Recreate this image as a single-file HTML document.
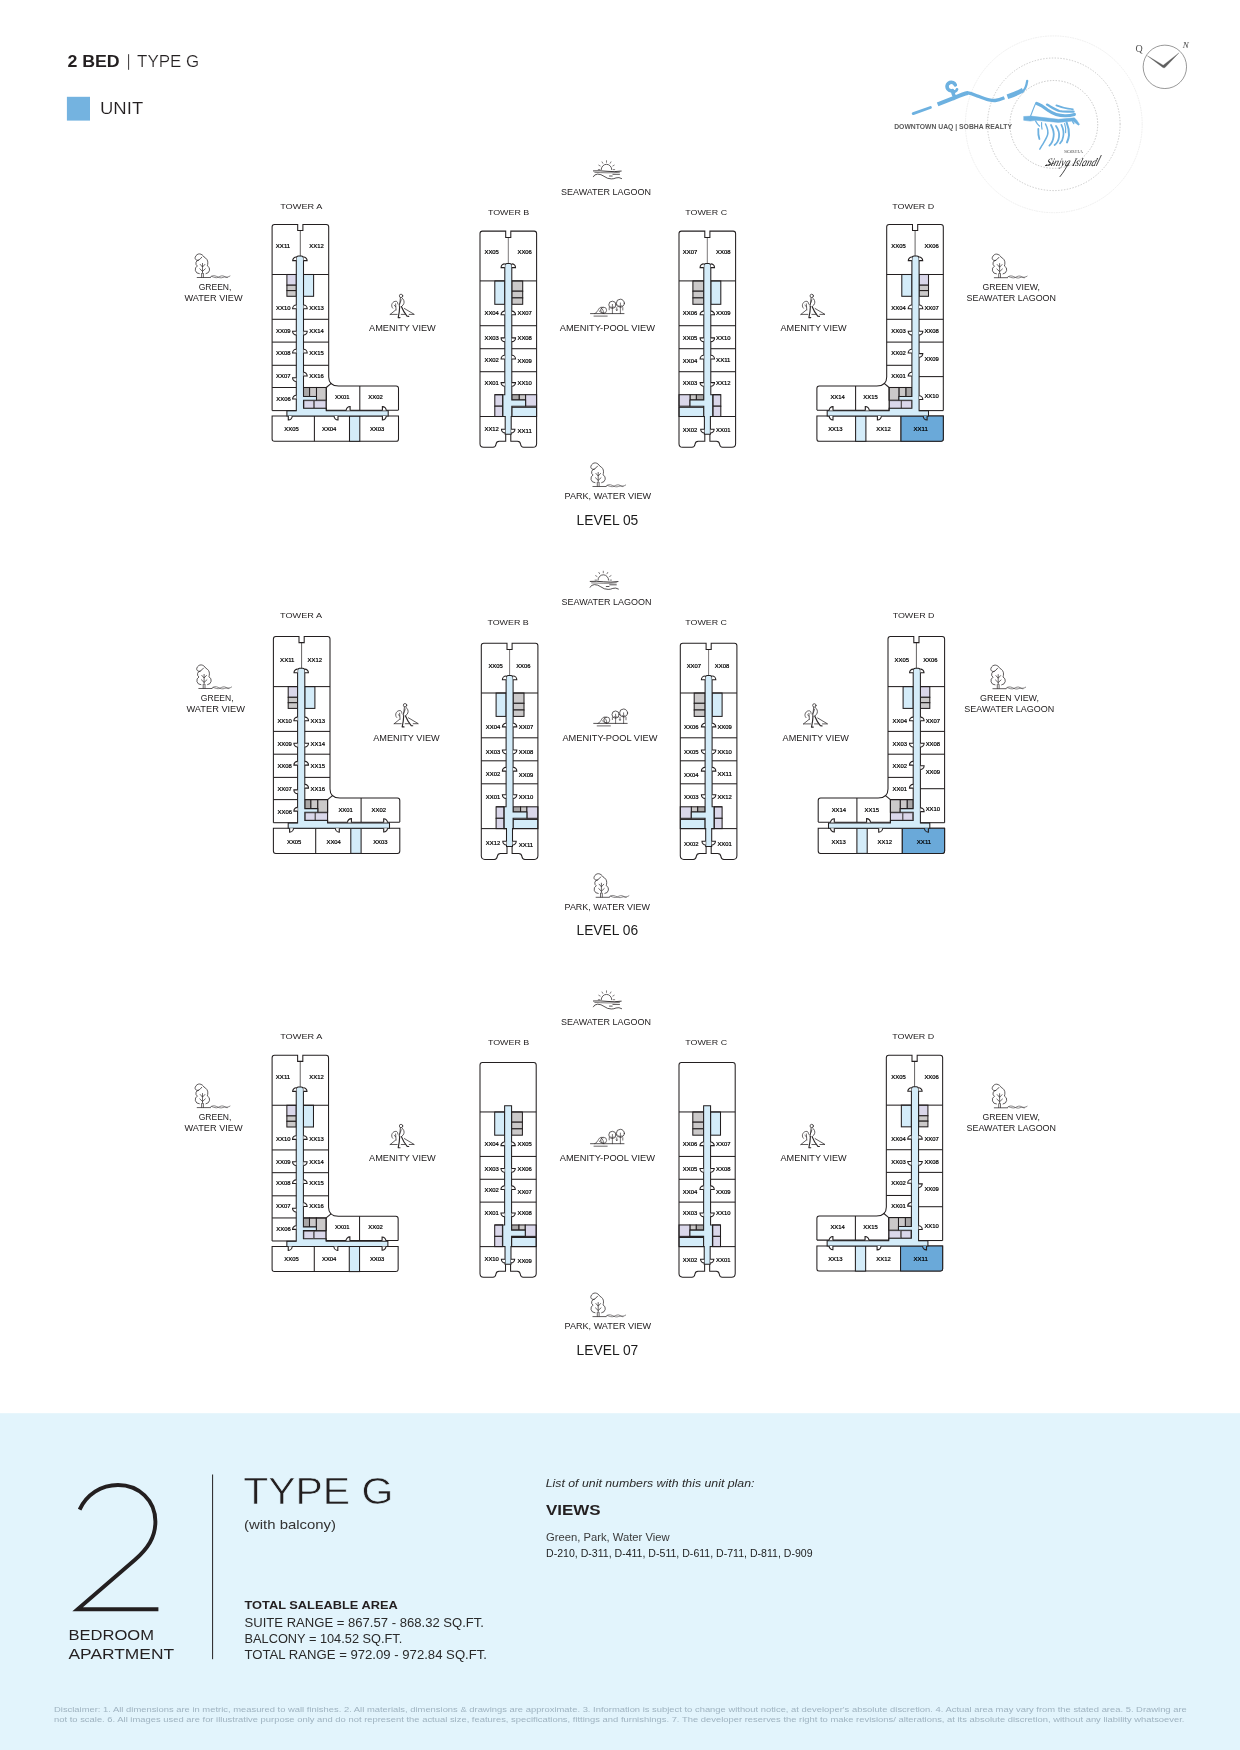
<!DOCTYPE html>
<html><head><meta charset="utf-8"><title>2 BED | TYPE G</title>
<style>
html,body{margin:0;padding:0;background:#fff;}
body{width:1240px;height:1750px;overflow:hidden;font-family:"Liberation Sans",sans-serif;}
svg{display:block;font-family:"Liberation Sans",sans-serif;will-change:transform;}
</style></head><body>
<svg width="1240" height="1750" viewBox="0 0 1240 1750">
<text x="67.40" y="66.60" font-size="16" textLength="52.30" lengthAdjust="spacingAndGlyphs" font-weight="bold" fill="#231f20">2 BED</text>
<path d="M128.6 54.2V69.8" stroke="#231f20" stroke-width="0.9"/>
<text x="137.10" y="66.60" font-size="16" textLength="62.10" lengthAdjust="spacingAndGlyphs" fill="#231f20" stroke="#fff" stroke-width="0.2">TYPE G</text>
<rect x="66.9" y="96.8" width="23.1" height="23.8" fill="#74b3e0"/>
<text x="100.00" y="113.90" font-size="16.4" textLength="43.20" lengthAdjust="spacingAndGlyphs" fill="#231f20" stroke="#fff" stroke-width="0.15">UNIT</text>
<g fill="none" stroke-linecap="round"><circle cx="1053.8" cy="124.3" r="88.4" stroke="#ececec" stroke-width="0.9" stroke-dasharray="0.9 1.6"/><circle cx="1053.8" cy="124.3" r="66.3" stroke="#c4c4c4" stroke-width="0.9" stroke-dasharray="0.6 2.3"/><circle cx="1053.8" cy="124.4" r="43.9" stroke="#bdbdbd" stroke-width="0.9" stroke-dasharray="0.6 2.3"/></g>
<g fill="none" stroke="#6db1e0" stroke-linecap="round" stroke-linejoin="round"><path d="M913.2 113.6L930.4 107.5" stroke-width="2.9"/><path d="M937.6 104.4L952.2 98.6C957 96.6 963 93.8 967.8 92.9" stroke-width="4.1" stroke-linecap="butt"/><path d="M966.8 92.7C971.5 93.4 975 95 978.4 96.3C982 97.8 985.6 99.2 989 99.9C991.5 100.4 993.5 100.6 995.2 100.5C998 100.2 1001 99.2 1004.4 97.8" stroke-width="3.3" stroke-linecap="butt"/><path d="M1007.4 96.8C1012.4 95 1018.4 92.6 1023 90.2" stroke-width="4.7" stroke-linecap="butt"/><path d="M1023 91C1025.4 88.8 1026.6 85 1027.2 80.8" stroke-width="2.3"/><path d="M955.3 84.9A4.3 4.3 0 1 0 952.4 90.7C953 93 953.6 95 954.6 96.8" stroke-width="3.6"/><path d="M952.6 91C954.2 92 956.4 91.4 957 89.4" stroke-width="2.8"/></g>
<text x="894.20" y="129.10" font-size="6.7" textLength="117.80" lengthAdjust="spacingAndGlyphs" font-weight="bold" fill="#585858">DOWNTOWN UAQ | SOBHA REALTY</text>
<g fill="none" stroke="#6db1e0" stroke-linecap="round" stroke-linejoin="round"><path d="M1023.9 116.5L1031 116.1L1058.4 119.3L1074.4 117.8L1077 120.6L1079.5 124.4L1078.4 125.2L1072.9 121.1L1058.4 122.4L1035.8 120.3L1030.2 121.1L1023.9 120.3Z" fill="#6db1e0" stroke-width="0.5"/><path d="M1030.6 116C1032.4 111.4 1034 107 1035.8 103L1042.4 105.6" stroke-width="1.1"/><path d="M1036.8 103.4C1040.6 104.6 1044.6 107.6 1048.4 110.6C1054 114.6 1060 116 1066 115.8C1069 115.6 1072 115 1074.4 114.4" stroke-width="3.1"/><path d="M1047 104.6C1051 106.8 1055 109.6 1059.4 111C1064 112.2 1069 111.6 1073.6 111.6" stroke-width="2.3"/><path d="M1056.4 105.4C1060 106.8 1064 108.2 1068 108.6C1070 108.8 1072 109 1072.8 109.4" stroke-width="1.8"/><path d="M1035.6 121C1036.6 123 1037.6 124.6 1039.4 126" stroke-width="1.4"/><path d="M1038.3 129C1038.1 132.4 1038.4 136 1039.4 139" stroke-width="1.8"/><path d="M1041.6 122.6C1041.4 124.8 1041.6 127.2 1042 129.2" stroke-width="1.2"/><path d="M1045.5 124C1047.2 127.4 1048.6 131 1047.6 134.8C1046.6 138.4 1044 142 1042 145.4C1041.2 146.8 1040.4 148.2 1039.8 149.2" stroke-width="1.5"/><path d="M1051 125C1053 128.6 1054.2 132.4 1053.6 136.4C1053.2 140 1051.6 143.6 1049.4 145.6" stroke-width="1.8"/><path d="M1056 126C1058.4 129.4 1059.6 133 1059 137C1058.6 140.4 1056.8 143.4 1054.6 145" stroke-width="1.8"/><path d="M1061.4 124.8C1063.2 128.4 1064 132.4 1063.2 136.6C1062.8 139.6 1061.6 142 1060 143.4" stroke-width="1.7"/><path d="M1064.6 123.6C1065.6 126.4 1066 129.6 1065.6 132.6" stroke-width="1.2"/><path d="M1066.6 122.4C1068.2 126.4 1069.2 131 1069 135.2C1068.8 138 1067.8 140.6 1067 142.4" stroke-width="2"/><path d="M1072.6 121.6C1073.2 122.6 1073.6 123.2 1073.8 123.6" stroke-width="1.3"/></g>
<text x="1063.90" y="153.40" font-size="4.4" textLength="19.20" lengthAdjust="spacingAndGlyphs" font-family="Liberation Serif" fill="#555">SOBHA</text>
<g transform="translate(1045.5 166.4) skewX(-18)"><text x="0" y="0" font-family="Liberation Serif" font-style="italic" font-size="11.5" textLength="50" lengthAdjust="spacingAndGlyphs" fill="#1b1b1b" style="fill:#1b1b1b">Siniya Island</text></g>
<path d="M1068.6 163C1066.6 167 1063.6 172.4 1060 176.6M1045.4 165.6C1049 165 1052 164 1054 163M1096.4 165.6L1101.2 155.4" stroke="#1b1b1b" stroke-width="0.8" fill="none" stroke-linecap="round"/>
<circle cx="1164.85" cy="66.85" r="21.7" fill="none" stroke="#777" stroke-width="0.75"/>
<path d="M1147.4 55.8L1163.2 65.2L1178.9 52.9L1165 67.6Q1163.8 68.2 1162.8 67.4Z" fill="#5e5e5e" stroke="#5e5e5e" stroke-width="0.3" stroke-linejoin="round"/>
<text x="1139.20" y="52.20" font-size="10" text-anchor="middle" font-family="Liberation Serif" fill="#555">Q</text>
<text x="1185.80" y="48.40" font-size="9" text-anchor="middle" font-style="italic" font-family="Liberation Serif" fill="#444">N</text>
<g transform="translate(593.00 159.70)" fill="none" stroke="#2b2728" stroke-width="0.75" stroke-linecap="round" stroke-linejoin="round"><path d="M8.2 9.9A5.3 5.3 0 0 1 18.8 9.9"/><path d="M6.70 9.90L5.30 9.90M7.18 6.25L5.79 5.45M9.85 3.58L9.05 2.19M13.50 2.60L13.50 1.00M17.15 3.58L17.95 2.19M19.82 6.25L21.21 5.45M20.30 9.90L21.70 9.90" stroke-width="0.6"/><path d="M0.4 11.2Q7 10.8 14 11.6T28.2 11.4" stroke-width="0.9"/><path d="M1.8 12.7Q8 12.9 14 13.1T26.5 12.6" stroke-width="0.6"/><path d="M0.3 17Q1.2 14.6 4.6 14.4Q8 14.4 11 16.6Q14.4 19.2 18.4 19.2Q21 19.2 23 18.2Q26 17.2 28.6 18.8" stroke-width="0.8"/><path d="M16.5 16.3H19.2M19.9 14.6H26.5" stroke-width="0.8"/></g>
<text x="561.00" y="195.00" font-size="8.4" textLength="90.00" lengthAdjust="spacingAndGlyphs" fill="#1d1a1b">SEAWATER LAGOON</text>
<g transform="translate(195.00 253.80)" fill="none" stroke="#2b2728" stroke-width="0.75" stroke-linecap="round" stroke-linejoin="round"><path d="M4.3 19.9A4.1 4.1 0 0 1 2.4 12.2A3.2 3.2 0 0 1 3.7 6.3C1.5 7 -0.6 5.4 0.3 3.2C1 1.2 2.8 0 4.6 0.1C6.6 0.3 8.2 1.6 9.1 3.3C11.4 4.4 13 6.6 12.8 9C12.8 10.2 12.6 11.2 12.3 12A4.2 4.2 0 0 1 11 19.9M3.7 6.3C4.8 5.6 6 4.6 6.8 3.4"/><path d="M6.6 23.4V19.6M8.4 23.4V19.6M7.5 19.6V9.6M5.2 10.6L7.5 13.2L9.9 10.6M4.8 15L7.5 17.6L10.3 15" stroke-width="0.7"/><path d="M2.2 23.7H15.4"/><path d="M15.4 23.2C17.4 21.4 19.4 21.6 21.6 22.6C24 23.8 25.6 24.6 28 23.6C30 22.8 31 23.4 32.4 23.2C33.6 23 34.4 22.6 35 22.2M16.6 22.6C19 23.4 21 24.6 23.4 23.4C25.4 22.2 27.4 21.4 29.4 22.6C30.4 23.2 31.4 24 32.4 23.8" stroke-width="0.55"/></g>
<text x="198.65" y="289.80" font-size="8.4" textLength="32.80" lengthAdjust="spacingAndGlyphs" fill="#1d1a1b">GREEN,</text>
<text x="184.50" y="300.80" font-size="8.4" textLength="58.10" lengthAdjust="spacingAndGlyphs" fill="#1d1a1b">WATER VIEW</text>
<g transform="translate(389.80 293.70)" fill="none" stroke="#2b2728" stroke-width="0.75" stroke-linecap="round" stroke-linejoin="round"><circle cx="11.25" cy="2.2" r="1.7"/><path d="M10.6 4.2C10.2 7 9.9 10 9.6 12.8M12.2 4.3C14 5.6 14.8 8 14 10C13.6 11 13 11.8 12.2 12.4M11.4 6C11 8 10.2 9.8 9.2 11.2" stroke-width="0.75"/><path d="M9.9 12.8C9.8 16.6 9.2 20.4 8.4 23.9H10.2M11.6 12.8C13 16.4 15 19.8 17.4 22.6L18.9 22.7" stroke-width="1.15"/><path d="M2.9 14.5C1.6 13.2 1.6 11.2 2.4 9.8C3.2 8.2 4.8 7.4 6.5 7.6C7.4 7.8 8 8.8 8 10.2M5.8 10.2L6.3 16.3M4.4 11.6L5.9 13" stroke-width="0.7"/><path d="M0.4 20.7H7.4M11.4 20.7H15.4M19.4 20.7H24.5L14.6 14.8M0.4 20.7L5.8 16.3" stroke-width="0.75"/></g>
<text x="369.00" y="330.90" font-size="8.4" textLength="66.80" lengthAdjust="spacingAndGlyphs" fill="#1d1a1b">AMENITY VIEW</text>
<g transform="translate(590.20 299.00)" fill="none" stroke="#2b2728" stroke-width="0.75" stroke-linecap="round" stroke-linejoin="round"><circle cx="22.2" cy="5.8" r="3.6"/><circle cx="30.2" cy="4.2" r="4"/><path d="M22.2 14.6V5.4M20.8 7.6L22.2 9L23.6 7.6M30.2 14.6V4M28.6 6.4L30.2 8L31.8 6.4M26.6 8.6V11.4M26 10.8L26.6 11.6L27.2 10.8M19 8.8V10.8M32.6 8.6V11" stroke-width="0.65"/><path d="M0.3 14.6H33.8" stroke-width="0.8"/><path d="M4.4 14.6C6.6 13.8 7.4 12 8.4 10.2C9.4 8.2 11.6 7.6 13.2 8.6M10.4 11.2A3 3 0 1 1 16.4 11.2A3 3 0 1 1 10.4 11.2M11 9C12.6 10 13.6 12 13.2 14.6M9 12C10.4 13.4 12 14.4 13.8 14.6" stroke-width="0.65"/><path d="M3.8 17.1H17" stroke-width="0.7"/></g>
<text x="559.70" y="330.80" font-size="8.4" textLength="95.30" lengthAdjust="spacingAndGlyphs" fill="#1d1a1b">AMENITY-POOL VIEW</text>
<g transform="translate(800.50 293.70)" fill="none" stroke="#2b2728" stroke-width="0.75" stroke-linecap="round" stroke-linejoin="round"><circle cx="11.25" cy="2.2" r="1.7"/><path d="M10.6 4.2C10.2 7 9.9 10 9.6 12.8M12.2 4.3C14 5.6 14.8 8 14 10C13.6 11 13 11.8 12.2 12.4M11.4 6C11 8 10.2 9.8 9.2 11.2" stroke-width="0.75"/><path d="M9.9 12.8C9.8 16.6 9.2 20.4 8.4 23.9H10.2M11.6 12.8C13 16.4 15 19.8 17.4 22.6L18.9 22.7" stroke-width="1.15"/><path d="M2.9 14.5C1.6 13.2 1.6 11.2 2.4 9.8C3.2 8.2 4.8 7.4 6.5 7.6C7.4 7.8 8 8.8 8 10.2M5.8 10.2L6.3 16.3M4.4 11.6L5.9 13" stroke-width="0.7"/><path d="M0.4 20.7H7.4M11.4 20.7H15.4M19.4 20.7H24.5L14.6 14.8M0.4 20.7L5.8 16.3" stroke-width="0.75"/></g>
<text x="780.50" y="330.90" font-size="8.4" textLength="66.10" lengthAdjust="spacingAndGlyphs" fill="#1d1a1b">AMENITY VIEW</text>
<g transform="translate(992.10 254.00)" fill="none" stroke="#2b2728" stroke-width="0.75" stroke-linecap="round" stroke-linejoin="round"><path d="M4.3 19.9A4.1 4.1 0 0 1 2.4 12.2A3.2 3.2 0 0 1 3.7 6.3C1.5 7 -0.6 5.4 0.3 3.2C1 1.2 2.8 0 4.6 0.1C6.6 0.3 8.2 1.6 9.1 3.3C11.4 4.4 13 6.6 12.8 9C12.8 10.2 12.6 11.2 12.3 12A4.2 4.2 0 0 1 11 19.9M3.7 6.3C4.8 5.6 6 4.6 6.8 3.4"/><path d="M6.6 23.4V19.6M8.4 23.4V19.6M7.5 19.6V9.6M5.2 10.6L7.5 13.2L9.9 10.6M4.8 15L7.5 17.6L10.3 15" stroke-width="0.7"/><path d="M2.2 23.7H15.4"/><path d="M15.4 23.2C17.4 21.4 19.4 21.6 21.6 22.6C24 23.8 25.6 24.6 28 23.6C30 22.8 31 23.4 32.4 23.2C33.6 23 34.4 22.6 35 22.2M16.6 22.6C19 23.4 21 24.6 23.4 23.4C25.4 22.2 27.4 21.4 29.4 22.6C30.4 23.2 31.4 24 32.4 23.8" stroke-width="0.55"/></g>
<text x="982.40" y="289.90" font-size="8.4" textLength="57.60" lengthAdjust="spacingAndGlyphs" fill="#1d1a1b">GREEN VIEW,</text>
<text x="966.50" y="300.80" font-size="8.4" textLength="89.50" lengthAdjust="spacingAndGlyphs" fill="#1d1a1b">SEAWATER LAGOON</text>
<g transform="translate(590.70 462.80)" fill="none" stroke="#2b2728" stroke-width="0.75" stroke-linecap="round" stroke-linejoin="round"><path d="M4.3 19.9A4.1 4.1 0 0 1 2.4 12.2A3.2 3.2 0 0 1 3.7 6.3C1.5 7 -0.6 5.4 0.3 3.2C1 1.2 2.8 0 4.6 0.1C6.6 0.3 8.2 1.6 9.1 3.3C11.4 4.4 13 6.6 12.8 9C12.8 10.2 12.6 11.2 12.3 12A4.2 4.2 0 0 1 11 19.9M3.7 6.3C4.8 5.6 6 4.6 6.8 3.4"/><path d="M6.6 23.4V19.6M8.4 23.4V19.6M7.5 19.6V9.6M5.2 10.6L7.5 13.2L9.9 10.6M4.8 15L7.5 17.6L10.3 15" stroke-width="0.7"/><path d="M2.2 23.7H15.4"/><path d="M15.4 23.2C17.4 21.4 19.4 21.6 21.6 22.6C24 23.8 25.6 24.6 28 23.6C30 22.8 31 23.4 32.4 23.2C33.6 23 34.4 22.6 35 22.2M16.6 22.6C19 23.4 21 24.6 23.4 23.4C25.4 22.2 27.4 21.4 29.4 22.6C30.4 23.2 31.4 24 32.4 23.8" stroke-width="0.55"/></g>
<text x="564.50" y="498.80" font-size="8.4" textLength="86.70" lengthAdjust="spacingAndGlyphs" fill="#1d1a1b">PARK, WATER VIEW</text>
<text x="576.60" y="524.90" font-size="14" textLength="61.70" lengthAdjust="spacingAndGlyphs" fill="#1a1a1a">LEVEL 05</text>
<text x="280.20" y="208.70" font-size="8.0" textLength="42.10" lengthAdjust="spacingAndGlyphs" fill="#1d1a1b">TOWER A</text>
<text x="487.90" y="214.60" font-size="8.0" textLength="41.40" lengthAdjust="spacingAndGlyphs" fill="#1d1a1b">TOWER B</text>
<text x="685.30" y="214.60" font-size="8.0" textLength="41.80" lengthAdjust="spacingAndGlyphs" fill="#1d1a1b">TOWER C</text>
<text x="892.20" y="208.70" font-size="8.0" textLength="42.10" lengthAdjust="spacingAndGlyphs" fill="#1d1a1b">TOWER D</text>
<g transform="translate(272.10 224.40) scale(1.0)"><path d="M0 186.2V2.4Q0 0 2.4 0H25.6V6.1H30.8V0H54.2Q56.6 0 56.6 2.4V152.5Q56.6 161.5 66.5 161.5H124Q126.4 161.5 126.4 163.9V185.6H54.2V186.2Z" fill="#fff" stroke="none" stroke-width="0" /><path d="M0 191.7H126.4V214.5Q126.4 216.9 124 216.9H2.4Q0 216.9 0 214.5Z" fill="#fff" stroke="#231f20" stroke-width="1.05" /><rect x="77.40" y="191.70" width="10.30" height="25.20" fill="#d4ecf9" stroke="#231f20" stroke-width="1.05"/><path d="M42.30 191.70L42.30 216.90" stroke="#231f20" stroke-width="1.05" fill="none"/><rect x="14.80" y="50.10" width="9.40" height="10.70" fill="#dad7ea" stroke="#231f20" stroke-width="1.05"/><rect x="14.80" y="60.80" width="9.40" height="5.40" fill="#cbc9c9" stroke="#231f20" stroke-width="1.05"/><rect x="14.80" y="66.20" width="9.40" height="5.70" fill="#cbc9c9" stroke="#231f20" stroke-width="1.05"/><rect x="31.40" y="50.10" width="10.10" height="21.80" fill="#d4ecf9" stroke="#231f20" stroke-width="1.05"/><rect x="31.40" y="163.10" width="6.10" height="9.00" fill="#a9a7a7" stroke="#231f20" stroke-width="1.05"/><rect x="37.50" y="163.10" width="6.90" height="9.00" fill="#cbc9c9" stroke="#231f20" stroke-width="1.05"/><rect x="44.40" y="163.10" width="9.80" height="12.70" fill="#cbc9c9" stroke="#231f20" stroke-width="1.05"/><path d="M24.2 186.4V33.9Q24.2 31.7 26.4 31.7H29.2Q31.4 31.7 31.4 33.9V172.1H44.4V175.8H31.4V183.9H54.2V186.4H116.1V191.7H14.8V186.4Z" fill="#d4ecf9" stroke="#231f20" stroke-width="1.05" /><rect x="31.90" y="176.40" width="9.70" height="7.20" fill="#dad7ea" stroke="#231f20" stroke-width="0.6"/><rect x="42.20" y="176.40" width="11.70" height="7.20" fill="#dad7ea" stroke="#231f20" stroke-width="0.6"/><path d="M0 186.2V2.4Q0 0 2.4 0H25.6V6.1H30.8V0H54.2Q56.6 0 56.6 2.4V152.5Q56.6 161.5 66.5 161.5H124Q126.4 161.5 126.4 163.9V185.6" fill="none" stroke="#231f20" stroke-width="1.05" /><path d="M0.00 186.20L24.20 186.20" stroke="#231f20" stroke-width="1.05" fill="none"/><path d="M54.20 185.80L126.40 185.80" stroke="#231f20" stroke-width="1.05" fill="none"/><path d="M54.20 163.10L54.20 186.00" stroke="#231f20" stroke-width="1.05" fill="none"/><path d="M59.40 158.80L54.20 163.10" stroke="#231f20" stroke-width="1.05" fill="none"/><path d="M87.70 161.50L87.70 185.80" stroke="#231f20" stroke-width="1.05" fill="none"/><path d="M28.20 6.10L28.20 31.70" stroke="#231f20" stroke-width="0.7" fill="none"/><path d="M0.00 50.10L14.80 50.10" stroke="#231f20" stroke-width="1.05" fill="none"/><path d="M0.00 94.90L24.20 94.90" stroke="#231f20" stroke-width="1.05" fill="none"/><path d="M0.00 117.70L24.20 117.70" stroke="#231f20" stroke-width="1.05" fill="none"/><path d="M0.00 140.90L24.20 140.90" stroke="#231f20" stroke-width="1.05" fill="none"/><path d="M0.00 163.10L24.20 163.10" stroke="#231f20" stroke-width="1.05" fill="none"/><path d="M14.80 50.10L24.20 50.10" stroke="#231f20" stroke-width="1.05" fill="none"/><path d="M31.40 50.10L56.60 50.10" stroke="#231f20" stroke-width="1.05" fill="none"/><path d="M31.40 94.90L56.60 94.90" stroke="#231f20" stroke-width="1.05" fill="none"/><path d="M31.40 117.70L56.60 117.70" stroke="#231f20" stroke-width="1.05" fill="none"/><path d="M31.40 140.90L56.60 140.90" stroke="#231f20" stroke-width="1.05" fill="none"/><path d="M31.40 163.10L54.20 163.10" stroke="#231f20" stroke-width="1.05" fill="none"/><path d="M24.20 36.20L20.60 36.20A3.6 3.6 0 0 1 24.20 32.60" fill="#fff" stroke="#231f20" stroke-width="1.1" /><path d="M31.40 36.20L35.00 36.20A3.6 3.6 0 0 0 31.40 32.60" fill="#fff" stroke="#231f20" stroke-width="1.1" /><path d="M24.20 84.30L20.50 84.30A3.7 3.7 0 0 1 24.20 80.60" fill="#fff" stroke="#231f20" stroke-width="1.1" /><path d="M24.20 106.80L20.50 106.80A3.7 3.7 0 0 0 24.20 110.50" fill="#fff" stroke="#231f20" stroke-width="1.1" /><path d="M24.20 128.60L20.50 128.60A3.7 3.7 0 0 1 24.20 124.90" fill="#fff" stroke="#231f20" stroke-width="1.1" /><path d="M24.20 153.40L20.50 153.40A3.7 3.7 0 0 0 24.20 157.10" fill="#fff" stroke="#231f20" stroke-width="1.1" /><path d="M24.20 174.60L20.50 174.60A3.7 3.7 0 0 1 24.20 170.90" fill="#fff" stroke="#231f20" stroke-width="1.1" /><path d="M31.40 84.30L35.10 84.30A3.7 3.7 0 0 0 31.40 80.60" fill="#fff" stroke="#231f20" stroke-width="1.1" /><path d="M31.40 106.80L35.10 106.80A3.7 3.7 0 0 1 31.40 110.50" fill="#fff" stroke="#231f20" stroke-width="1.1" /><path d="M31.40 128.60L35.10 128.60A3.7 3.7 0 0 0 31.40 124.90" fill="#fff" stroke="#231f20" stroke-width="1.1" /><path d="M31.40 151.60L35.10 151.60A3.7 3.7 0 0 0 31.40 147.90" fill="#fff" stroke="#231f20" stroke-width="1.1" /><path d="M78.00 186.00L78.00 182.10A3.9 3.9 0 0 0 74.10 186.00" fill="#fff" stroke="#231f20" stroke-width="1.1" /><path d="M110.30 186.00L110.30 182.20A3.8 3.8 0 0 1 114.10 186.00" fill="#fff" stroke="#231f20" stroke-width="1.1" /><path d="M16.20 191.70L16.20 195.60A3.9 3.9 0 0 0 20.10 191.70" fill="#fff" stroke="#231f20" stroke-width="1.1" /><path d="M65.90 191.70L65.90 195.60A3.9 3.9 0 0 1 62.00 191.70" fill="#fff" stroke="#231f20" stroke-width="1.1" /><path d="M110.30 191.70L110.30 195.50A3.8 3.8 0 0 0 114.10 191.70" fill="#fff" stroke="#231f20" stroke-width="1.1" /></g>
<g transform="translate(480.00 231.10) scale(1.0)"><path d="M0 2.4Q0 0 2.4 0H25.7V6.3H30.8V0H54.2Q56.6 0 56.6 2.4V212.6Q56.6 216.2 53 216.2H43.6Q41 216.2 40.6 213.2Q40.2 210.2 37.4 210.2H30.8V203.2H25.7V210.2H19.2Q16.4 210.2 16 213.2Q15.6 216.2 13 216.2H3.6Q0 216.2 0 212.6Z" fill="#fff" stroke="none" stroke-width="0" /><rect x="14.80" y="49.80" width="10.00" height="23.40" fill="#d4ecf9" stroke="#231f20" stroke-width="1.05"/><rect x="31.80" y="49.80" width="10.90" height="10.30" fill="#cbc9c9" stroke="#231f20" stroke-width="1.05"/><rect x="31.80" y="60.10" width="10.90" height="6.70" fill="#cbc9c9" stroke="#231f20" stroke-width="1.05"/><rect x="31.80" y="66.80" width="10.90" height="6.40" fill="#cbc9c9" stroke="#231f20" stroke-width="1.05"/><rect x="14.80" y="163.60" width="7.80" height="11.50" fill="#dad7ea" stroke="#231f20" stroke-width="1.05"/><rect x="14.80" y="175.10" width="7.80" height="10.30" fill="#dad7ea" stroke="#231f20" stroke-width="1.05"/><rect x="31.80" y="163.60" width="7.50" height="5.20" fill="#a9a7a7" stroke="#231f20" stroke-width="1.05"/><rect x="39.30" y="163.60" width="6.30" height="5.20" fill="#cbc9c9" stroke="#231f20" stroke-width="1.05"/><rect x="45.60" y="163.60" width="11.00" height="11.50" fill="#dad7ea" stroke="#231f20" stroke-width="1.05"/><rect x="31.80" y="176.20" width="24.80" height="9.20" fill="#d4ecf9" stroke="#231f20" stroke-width="1.05"/><path d="M24.8 34.5Q24.8 32.3 27 32.3H29.6Q31.8 32.3 31.8 34.5V168.8H45.6V175.1H31.8V185.4H31.2V203.2H25.2V185.4H22.9V163.6H24.8Z" fill="#d4ecf9" stroke="#231f20" stroke-width="1.05" /><path d="M0 2.4Q0 0 2.4 0H25.7V6.3H30.8V0H54.2Q56.6 0 56.6 2.4V212.6Q56.6 216.2 53 216.2H43.6Q41 216.2 40.6 213.2Q40.2 210.2 37.4 210.2H30.8V203.2M25.7 203.2V210.2H19.2Q16.4 210.2 16 213.2Q15.6 216.2 13 216.2H3.6Q0 216.2 0 212.6V2.4" fill="none" stroke="#231f20" stroke-width="1.05" /><path d="M28.30 6.30L28.30 32.30" stroke="#231f20" stroke-width="0.6" fill="none"/><path d="M0.00 49.80L14.80 49.80" stroke="#231f20" stroke-width="1.05" fill="none"/><path d="M42.70 49.80L56.60 49.80" stroke="#231f20" stroke-width="1.05" fill="none"/><path d="M0.00 94.60L24.80 94.60" stroke="#231f20" stroke-width="1.05" fill="none"/><path d="M31.80 94.60L56.60 94.60" stroke="#231f20" stroke-width="1.05" fill="none"/><path d="M0.00 117.60L24.80 117.60" stroke="#231f20" stroke-width="1.05" fill="none"/><path d="M31.80 117.60L56.60 117.60" stroke="#231f20" stroke-width="1.05" fill="none"/><path d="M0.00 140.60L24.80 140.60" stroke="#231f20" stroke-width="1.05" fill="none"/><path d="M31.80 140.60L56.60 140.60" stroke="#231f20" stroke-width="1.05" fill="none"/><path d="M14.80 49.80L24.80 49.80" stroke="#231f20" stroke-width="1.05" fill="none"/><path d="M31.80 49.80L42.70 49.80" stroke="#231f20" stroke-width="1.05" fill="none"/><path d="M14.80 163.60L22.90 163.60" stroke="#231f20" stroke-width="1.05" fill="none"/><path d="M0.00 185.40L25.20 185.40" stroke="#231f20" stroke-width="1.05" fill="none"/><path d="M31.20 185.40L56.60 185.40" stroke="#231f20" stroke-width="1.05" fill="none"/><path d="M24.80 36.50L21.10 36.50A3.7 3.7 0 0 1 24.80 32.80" fill="#fff" stroke="#231f20" stroke-width="1.1" /><path d="M31.80 36.50L35.50 36.50A3.7 3.7 0 0 0 31.80 32.80" fill="#fff" stroke="#231f20" stroke-width="1.1" /><path d="M24.80 83.70L21.10 83.70A3.7 3.7 0 0 1 24.80 80.00" fill="#fff" stroke="#231f20" stroke-width="1.1" /><path d="M31.80 83.70L35.50 83.70A3.7 3.7 0 0 0 31.80 80.00" fill="#fff" stroke="#231f20" stroke-width="1.1" /><path d="M24.80 106.80L21.10 106.80A3.7 3.7 0 0 0 24.80 110.50" fill="#fff" stroke="#231f20" stroke-width="1.1" /><path d="M31.80 106.80L35.50 106.80A3.7 3.7 0 0 1 31.80 110.50" fill="#fff" stroke="#231f20" stroke-width="1.1" /><path d="M24.80 127.90L21.10 127.90A3.7 3.7 0 0 1 24.80 124.20" fill="#fff" stroke="#231f20" stroke-width="1.1" /><path d="M31.80 127.90L35.50 127.90A3.7 3.7 0 0 0 31.80 124.20" fill="#fff" stroke="#231f20" stroke-width="1.1" /><path d="M24.80 151.50L21.10 151.50A3.7 3.7 0 0 0 24.80 155.20" fill="#fff" stroke="#231f20" stroke-width="1.1" /><path d="M31.80 151.50L35.50 151.50A3.7 3.7 0 0 1 31.80 155.20" fill="#fff" stroke="#231f20" stroke-width="1.1" /><path d="M25.20 198.10L21.50 198.10A3.7 3.7 0 0 0 25.20 201.80" fill="#fff" stroke="#231f20" stroke-width="1.1" /><path d="M31.20 198.10L34.90 198.10A3.7 3.7 0 0 1 31.20 201.80" fill="#fff" stroke="#231f20" stroke-width="1.1" /></g>
<g transform="translate(735.60 231.10) scale(-1.0 1.0)"><path d="M0 2.4Q0 0 2.4 0H25.7V6.3H30.8V0H54.2Q56.6 0 56.6 2.4V212.6Q56.6 216.2 53 216.2H43.6Q41 216.2 40.6 213.2Q40.2 210.2 37.4 210.2H30.8V203.2H25.7V210.2H19.2Q16.4 210.2 16 213.2Q15.6 216.2 13 216.2H3.6Q0 216.2 0 212.6Z" fill="#fff" stroke="none" stroke-width="0" /><rect x="14.80" y="49.80" width="10.00" height="23.40" fill="#d4ecf9" stroke="#231f20" stroke-width="1.05"/><rect x="31.80" y="49.80" width="10.90" height="10.30" fill="#cbc9c9" stroke="#231f20" stroke-width="1.05"/><rect x="31.80" y="60.10" width="10.90" height="6.70" fill="#cbc9c9" stroke="#231f20" stroke-width="1.05"/><rect x="31.80" y="66.80" width="10.90" height="6.40" fill="#cbc9c9" stroke="#231f20" stroke-width="1.05"/><rect x="14.80" y="163.60" width="7.80" height="11.50" fill="#dad7ea" stroke="#231f20" stroke-width="1.05"/><rect x="14.80" y="175.10" width="7.80" height="10.30" fill="#dad7ea" stroke="#231f20" stroke-width="1.05"/><rect x="31.80" y="163.60" width="7.50" height="5.20" fill="#a9a7a7" stroke="#231f20" stroke-width="1.05"/><rect x="39.30" y="163.60" width="6.30" height="5.20" fill="#cbc9c9" stroke="#231f20" stroke-width="1.05"/><rect x="45.60" y="163.60" width="11.00" height="11.50" fill="#dad7ea" stroke="#231f20" stroke-width="1.05"/><rect x="31.80" y="176.20" width="24.80" height="9.20" fill="#d4ecf9" stroke="#231f20" stroke-width="1.05"/><path d="M24.8 34.5Q24.8 32.3 27 32.3H29.6Q31.8 32.3 31.8 34.5V168.8H45.6V175.1H31.8V185.4H31.2V203.2H25.2V185.4H22.9V163.6H24.8Z" fill="#d4ecf9" stroke="#231f20" stroke-width="1.05" /><path d="M0 2.4Q0 0 2.4 0H25.7V6.3H30.8V0H54.2Q56.6 0 56.6 2.4V212.6Q56.6 216.2 53 216.2H43.6Q41 216.2 40.6 213.2Q40.2 210.2 37.4 210.2H30.8V203.2M25.7 203.2V210.2H19.2Q16.4 210.2 16 213.2Q15.6 216.2 13 216.2H3.6Q0 216.2 0 212.6V2.4" fill="none" stroke="#231f20" stroke-width="1.05" /><path d="M28.30 6.30L28.30 32.30" stroke="#231f20" stroke-width="0.6" fill="none"/><path d="M0.00 49.80L14.80 49.80" stroke="#231f20" stroke-width="1.05" fill="none"/><path d="M42.70 49.80L56.60 49.80" stroke="#231f20" stroke-width="1.05" fill="none"/><path d="M0.00 94.60L24.80 94.60" stroke="#231f20" stroke-width="1.05" fill="none"/><path d="M31.80 94.60L56.60 94.60" stroke="#231f20" stroke-width="1.05" fill="none"/><path d="M0.00 117.60L24.80 117.60" stroke="#231f20" stroke-width="1.05" fill="none"/><path d="M31.80 117.60L56.60 117.60" stroke="#231f20" stroke-width="1.05" fill="none"/><path d="M0.00 140.60L24.80 140.60" stroke="#231f20" stroke-width="1.05" fill="none"/><path d="M31.80 140.60L56.60 140.60" stroke="#231f20" stroke-width="1.05" fill="none"/><path d="M14.80 49.80L24.80 49.80" stroke="#231f20" stroke-width="1.05" fill="none"/><path d="M31.80 49.80L42.70 49.80" stroke="#231f20" stroke-width="1.05" fill="none"/><path d="M14.80 163.60L22.90 163.60" stroke="#231f20" stroke-width="1.05" fill="none"/><path d="M0.00 185.40L25.20 185.40" stroke="#231f20" stroke-width="1.05" fill="none"/><path d="M31.20 185.40L56.60 185.40" stroke="#231f20" stroke-width="1.05" fill="none"/><path d="M24.80 36.50L21.10 36.50A3.7 3.7 0 0 1 24.80 32.80" fill="#fff" stroke="#231f20" stroke-width="1.1" /><path d="M31.80 36.50L35.50 36.50A3.7 3.7 0 0 0 31.80 32.80" fill="#fff" stroke="#231f20" stroke-width="1.1" /><path d="M24.80 83.70L21.10 83.70A3.7 3.7 0 0 1 24.80 80.00" fill="#fff" stroke="#231f20" stroke-width="1.1" /><path d="M31.80 83.70L35.50 83.70A3.7 3.7 0 0 0 31.80 80.00" fill="#fff" stroke="#231f20" stroke-width="1.1" /><path d="M24.80 106.80L21.10 106.80A3.7 3.7 0 0 0 24.80 110.50" fill="#fff" stroke="#231f20" stroke-width="1.1" /><path d="M31.80 106.80L35.50 106.80A3.7 3.7 0 0 1 31.80 110.50" fill="#fff" stroke="#231f20" stroke-width="1.1" /><path d="M24.80 127.90L21.10 127.90A3.7 3.7 0 0 1 24.80 124.20" fill="#fff" stroke="#231f20" stroke-width="1.1" /><path d="M31.80 127.90L35.50 127.90A3.7 3.7 0 0 0 31.80 124.20" fill="#fff" stroke="#231f20" stroke-width="1.1" /><path d="M24.80 151.50L21.10 151.50A3.7 3.7 0 0 0 24.80 155.20" fill="#fff" stroke="#231f20" stroke-width="1.1" /><path d="M31.80 151.50L35.50 151.50A3.7 3.7 0 0 1 31.80 155.20" fill="#fff" stroke="#231f20" stroke-width="1.1" /><path d="M25.20 198.10L21.50 198.10A3.7 3.7 0 0 0 25.20 201.80" fill="#fff" stroke="#231f20" stroke-width="1.1" /><path d="M31.20 198.10L34.90 198.10A3.7 3.7 0 0 1 31.20 201.80" fill="#fff" stroke="#231f20" stroke-width="1.1" /></g>
<g transform="translate(943.30 224.40) scale(-1.0 1.0)"><path d="M0 186.2V2.4Q0 0 2.4 0H25.6V6.1H30.8V0H54.2Q56.6 0 56.6 2.4V152.5Q56.6 161.5 66.5 161.5H124Q126.4 161.5 126.4 163.9V185.6H54.2V186.2Z" fill="#fff" stroke="none" stroke-width="0" /><path d="M0 191.7H126.4V214.5Q126.4 216.9 124 216.9H2.4Q0 216.9 0 214.5Z" fill="#fff" stroke="#231f20" stroke-width="1.05" /><rect x="77.40" y="191.70" width="10.30" height="25.20" fill="#d4ecf9" stroke="#231f20" stroke-width="1.05"/><path d="M42.30 191.70L42.30 216.90" stroke="#231f20" stroke-width="1.05" fill="none"/><path d="M0 191.7H42.3V216.9H2.4Q0 216.9 0 214.5Z" fill="#6aa9d9" stroke="#231f20" stroke-width="1.05" /><rect x="14.80" y="50.10" width="9.40" height="10.70" fill="#dad7ea" stroke="#231f20" stroke-width="1.05"/><rect x="14.80" y="60.80" width="9.40" height="5.40" fill="#cbc9c9" stroke="#231f20" stroke-width="1.05"/><rect x="14.80" y="66.20" width="9.40" height="5.70" fill="#cbc9c9" stroke="#231f20" stroke-width="1.05"/><rect x="31.40" y="50.10" width="10.10" height="21.80" fill="#d4ecf9" stroke="#231f20" stroke-width="1.05"/><rect x="31.40" y="163.10" width="6.10" height="9.00" fill="#a9a7a7" stroke="#231f20" stroke-width="1.05"/><rect x="37.50" y="163.10" width="6.90" height="9.00" fill="#cbc9c9" stroke="#231f20" stroke-width="1.05"/><rect x="44.40" y="163.10" width="9.80" height="12.70" fill="#cbc9c9" stroke="#231f20" stroke-width="1.05"/><path d="M24.2 186.4V33.9Q24.2 31.7 26.4 31.7H29.2Q31.4 31.7 31.4 33.9V172.1H44.4V175.8H31.4V183.9H54.2V186.4H116.1V191.7H14.8V186.4Z" fill="#d4ecf9" stroke="#231f20" stroke-width="1.05" /><rect x="31.90" y="176.40" width="9.70" height="7.20" fill="#dad7ea" stroke="#231f20" stroke-width="0.6"/><rect x="42.20" y="176.40" width="11.70" height="7.20" fill="#dad7ea" stroke="#231f20" stroke-width="0.6"/><path d="M0 186.2V2.4Q0 0 2.4 0H25.6V6.1H30.8V0H54.2Q56.6 0 56.6 2.4V152.5Q56.6 161.5 66.5 161.5H124Q126.4 161.5 126.4 163.9V185.6" fill="none" stroke="#231f20" stroke-width="1.05" /><path d="M0.00 186.20L24.20 186.20" stroke="#231f20" stroke-width="1.05" fill="none"/><path d="M54.20 185.80L126.40 185.80" stroke="#231f20" stroke-width="1.05" fill="none"/><path d="M54.20 163.10L54.20 186.00" stroke="#231f20" stroke-width="1.05" fill="none"/><path d="M59.40 158.80L54.20 163.10" stroke="#231f20" stroke-width="1.05" fill="none"/><path d="M87.70 161.50L87.70 185.80" stroke="#231f20" stroke-width="1.05" fill="none"/><path d="M28.20 6.10L28.20 31.70" stroke="#231f20" stroke-width="0.7" fill="none"/><path d="M0.00 50.10L14.80 50.10" stroke="#231f20" stroke-width="1.05" fill="none"/><path d="M0.00 94.90L24.20 94.90" stroke="#231f20" stroke-width="1.05" fill="none"/><path d="M0.00 117.70L24.20 117.70" stroke="#231f20" stroke-width="1.05" fill="none"/><path d="M0.00 152.20L24.20 152.20" stroke="#231f20" stroke-width="1.05" fill="none"/><path d="M14.80 50.10L24.20 50.10" stroke="#231f20" stroke-width="1.05" fill="none"/><path d="M31.40 50.10L56.60 50.10" stroke="#231f20" stroke-width="1.05" fill="none"/><path d="M31.40 94.90L56.60 94.90" stroke="#231f20" stroke-width="1.05" fill="none"/><path d="M31.40 117.70L56.60 117.70" stroke="#231f20" stroke-width="1.05" fill="none"/><path d="M31.40 140.90L56.60 140.90" stroke="#231f20" stroke-width="1.05" fill="none"/><path d="M31.40 163.10L54.20 163.10" stroke="#231f20" stroke-width="1.05" fill="none"/><path d="M24.20 36.20L20.60 36.20A3.6 3.6 0 0 1 24.20 32.60" fill="#fff" stroke="#231f20" stroke-width="1.1" /><path d="M31.40 36.20L35.00 36.20A3.6 3.6 0 0 0 31.40 32.60" fill="#fff" stroke="#231f20" stroke-width="1.1" /><path d="M24.20 84.30L20.50 84.30A3.7 3.7 0 0 1 24.20 80.60" fill="#fff" stroke="#231f20" stroke-width="1.1" /><path d="M24.20 106.80L20.50 106.80A3.7 3.7 0 0 0 24.20 110.50" fill="#fff" stroke="#231f20" stroke-width="1.1" /><path d="M24.20 129.20L20.50 129.20A3.7 3.7 0 0 0 24.20 132.90" fill="#fff" stroke="#231f20" stroke-width="1.1" /><path d="M24.20 175.10L20.50 175.10A3.7 3.7 0 0 1 24.20 171.40" fill="#fff" stroke="#231f20" stroke-width="1.1" /><path d="M31.40 84.30L35.10 84.30A3.7 3.7 0 0 0 31.40 80.60" fill="#fff" stroke="#231f20" stroke-width="1.1" /><path d="M31.40 106.80L35.10 106.80A3.7 3.7 0 0 1 31.40 110.50" fill="#fff" stroke="#231f20" stroke-width="1.1" /><path d="M31.40 128.60L35.10 128.60A3.7 3.7 0 0 0 31.40 124.90" fill="#fff" stroke="#231f20" stroke-width="1.1" /><path d="M31.40 151.60L35.10 151.60A3.7 3.7 0 0 0 31.40 147.90" fill="#fff" stroke="#231f20" stroke-width="1.1" /><path d="M78.00 186.00L78.00 182.10A3.9 3.9 0 0 0 74.10 186.00" fill="#fff" stroke="#231f20" stroke-width="1.1" /><path d="M110.30 186.00L110.30 182.20A3.8 3.8 0 0 1 114.10 186.00" fill="#fff" stroke="#231f20" stroke-width="1.1" /><path d="M16.20 191.70L16.20 195.60A3.9 3.9 0 0 0 20.10 191.70" fill="#6aa9d9" stroke="#231f20" stroke-width="1.1" /><path d="M65.90 191.70L65.90 195.60A3.9 3.9 0 0 1 62.00 191.70" fill="#fff" stroke="#231f20" stroke-width="1.1" /><path d="M110.30 191.70L110.30 195.50A3.8 3.8 0 0 0 114.10 191.70" fill="#fff" stroke="#231f20" stroke-width="1.1" /></g>
<text x="275.80" y="247.95" font-size="4.9" textLength="14.40" lengthAdjust="spacingAndGlyphs" fill="#000" stroke="#000" stroke-width="0.18">XX11</text>
<text x="309.30" y="247.95" font-size="4.9" textLength="14.40" lengthAdjust="spacingAndGlyphs" fill="#000" stroke="#000" stroke-width="0.18">XX12</text>
<text x="276.10" y="309.85" font-size="4.9" textLength="14.40" lengthAdjust="spacingAndGlyphs" fill="#000" stroke="#000" stroke-width="0.18">XX10</text>
<text x="309.30" y="309.85" font-size="4.9" textLength="14.40" lengthAdjust="spacingAndGlyphs" fill="#000" stroke="#000" stroke-width="0.18">XX13</text>
<text x="276.10" y="332.85" font-size="4.9" textLength="14.40" lengthAdjust="spacingAndGlyphs" fill="#000" stroke="#000" stroke-width="0.18">XX09</text>
<text x="309.30" y="332.85" font-size="4.9" textLength="14.40" lengthAdjust="spacingAndGlyphs" fill="#000" stroke="#000" stroke-width="0.18">XX14</text>
<text x="276.10" y="354.75" font-size="4.9" textLength="14.40" lengthAdjust="spacingAndGlyphs" fill="#000" stroke="#000" stroke-width="0.18">XX08</text>
<text x="309.30" y="354.75" font-size="4.9" textLength="14.40" lengthAdjust="spacingAndGlyphs" fill="#000" stroke="#000" stroke-width="0.18">XX15</text>
<text x="276.10" y="377.75" font-size="4.9" textLength="14.40" lengthAdjust="spacingAndGlyphs" fill="#000" stroke="#000" stroke-width="0.18">XX07</text>
<text x="309.30" y="377.75" font-size="4.9" textLength="14.40" lengthAdjust="spacingAndGlyphs" fill="#000" stroke="#000" stroke-width="0.18">XX16</text>
<text x="276.30" y="400.75" font-size="4.9" textLength="14.40" lengthAdjust="spacingAndGlyphs" fill="#000" stroke="#000" stroke-width="0.18">XX06</text>
<text x="335.10" y="398.55" font-size="4.9" textLength="14.40" lengthAdjust="spacingAndGlyphs" fill="#000" stroke="#000" stroke-width="0.18">XX01</text>
<text x="368.30" y="398.55" font-size="4.9" textLength="14.40" lengthAdjust="spacingAndGlyphs" fill="#000" stroke="#000" stroke-width="0.18">XX02</text>
<text x="284.30" y="430.75" font-size="4.9" textLength="14.40" lengthAdjust="spacingAndGlyphs" fill="#000" stroke="#000" stroke-width="0.18">XX05</text>
<text x="322.00" y="430.75" font-size="4.9" textLength="14.40" lengthAdjust="spacingAndGlyphs" fill="#000" stroke="#000" stroke-width="0.18">XX04</text>
<text x="369.90" y="430.75" font-size="4.9" textLength="14.40" lengthAdjust="spacingAndGlyphs" fill="#000" stroke="#000" stroke-width="0.18">XX03</text>
<text x="484.50" y="253.65" font-size="4.9" textLength="14.40" lengthAdjust="spacingAndGlyphs" fill="#000" stroke="#000" stroke-width="0.18">XX05</text>
<text x="517.50" y="253.65" font-size="4.9" textLength="14.40" lengthAdjust="spacingAndGlyphs" fill="#000" stroke="#000" stroke-width="0.18">XX06</text>
<text x="484.50" y="314.75" font-size="4.9" textLength="14.40" lengthAdjust="spacingAndGlyphs" fill="#000" stroke="#000" stroke-width="0.18">XX04</text>
<text x="517.50" y="314.75" font-size="4.9" textLength="14.40" lengthAdjust="spacingAndGlyphs" fill="#000" stroke="#000" stroke-width="0.18">XX07</text>
<text x="484.50" y="339.95" font-size="4.9" textLength="14.40" lengthAdjust="spacingAndGlyphs" fill="#000" stroke="#000" stroke-width="0.18">XX03</text>
<text x="517.50" y="339.95" font-size="4.9" textLength="14.40" lengthAdjust="spacingAndGlyphs" fill="#000" stroke="#000" stroke-width="0.18">XX08</text>
<text x="484.50" y="361.65" font-size="4.9" textLength="14.40" lengthAdjust="spacingAndGlyphs" fill="#000" stroke="#000" stroke-width="0.18">XX02</text>
<text x="517.50" y="362.95" font-size="4.9" textLength="14.40" lengthAdjust="spacingAndGlyphs" fill="#000" stroke="#000" stroke-width="0.18">XX09</text>
<text x="484.50" y="384.75" font-size="4.9" textLength="14.40" lengthAdjust="spacingAndGlyphs" fill="#000" stroke="#000" stroke-width="0.18">XX01</text>
<text x="517.50" y="384.75" font-size="4.9" textLength="14.40" lengthAdjust="spacingAndGlyphs" fill="#000" stroke="#000" stroke-width="0.18">XX10</text>
<text x="484.50" y="430.95" font-size="4.9" textLength="14.40" lengthAdjust="spacingAndGlyphs" fill="#000" stroke="#000" stroke-width="0.18">XX12</text>
<text x="517.50" y="432.75" font-size="4.9" textLength="14.40" lengthAdjust="spacingAndGlyphs" fill="#000" stroke="#000" stroke-width="0.18">XX11</text>
<text x="682.80" y="253.65" font-size="4.9" textLength="14.40" lengthAdjust="spacingAndGlyphs" fill="#000" stroke="#000" stroke-width="0.18">XX07</text>
<text x="716.10" y="253.65" font-size="4.9" textLength="14.40" lengthAdjust="spacingAndGlyphs" fill="#000" stroke="#000" stroke-width="0.18">XX08</text>
<text x="682.80" y="314.75" font-size="4.9" textLength="14.40" lengthAdjust="spacingAndGlyphs" fill="#000" stroke="#000" stroke-width="0.18">XX06</text>
<text x="716.10" y="314.75" font-size="4.9" textLength="14.40" lengthAdjust="spacingAndGlyphs" fill="#000" stroke="#000" stroke-width="0.18">XX09</text>
<text x="682.80" y="339.95" font-size="4.9" textLength="14.40" lengthAdjust="spacingAndGlyphs" fill="#000" stroke="#000" stroke-width="0.18">XX05</text>
<text x="716.10" y="339.95" font-size="4.9" textLength="14.40" lengthAdjust="spacingAndGlyphs" fill="#000" stroke="#000" stroke-width="0.18">XX10</text>
<text x="682.80" y="362.95" font-size="4.9" textLength="14.40" lengthAdjust="spacingAndGlyphs" fill="#000" stroke="#000" stroke-width="0.18">XX04</text>
<text x="716.10" y="361.65" font-size="4.9" textLength="14.40" lengthAdjust="spacingAndGlyphs" fill="#000" stroke="#000" stroke-width="0.18">XX11</text>
<text x="682.80" y="384.75" font-size="4.9" textLength="14.40" lengthAdjust="spacingAndGlyphs" fill="#000" stroke="#000" stroke-width="0.18">XX03</text>
<text x="716.10" y="384.75" font-size="4.9" textLength="14.40" lengthAdjust="spacingAndGlyphs" fill="#000" stroke="#000" stroke-width="0.18">XX12</text>
<text x="682.80" y="431.95" font-size="4.9" textLength="14.40" lengthAdjust="spacingAndGlyphs" fill="#000" stroke="#000" stroke-width="0.18">XX02</text>
<text x="716.10" y="431.95" font-size="4.9" textLength="14.40" lengthAdjust="spacingAndGlyphs" fill="#000" stroke="#000" stroke-width="0.18">XX01</text>
<text x="891.30" y="247.95" font-size="4.9" textLength="14.40" lengthAdjust="spacingAndGlyphs" fill="#000" stroke="#000" stroke-width="0.18">XX05</text>
<text x="924.40" y="247.95" font-size="4.9" textLength="14.40" lengthAdjust="spacingAndGlyphs" fill="#000" stroke="#000" stroke-width="0.18">XX06</text>
<text x="891.30" y="309.85" font-size="4.9" textLength="14.40" lengthAdjust="spacingAndGlyphs" fill="#000" stroke="#000" stroke-width="0.18">XX04</text>
<text x="891.30" y="332.85" font-size="4.9" textLength="14.40" lengthAdjust="spacingAndGlyphs" fill="#000" stroke="#000" stroke-width="0.18">XX03</text>
<text x="891.30" y="354.75" font-size="4.9" textLength="14.40" lengthAdjust="spacingAndGlyphs" fill="#000" stroke="#000" stroke-width="0.18">XX02</text>
<text x="891.30" y="377.75" font-size="4.9" textLength="14.40" lengthAdjust="spacingAndGlyphs" fill="#000" stroke="#000" stroke-width="0.18">XX01</text>
<text x="924.40" y="309.85" font-size="4.9" textLength="14.40" lengthAdjust="spacingAndGlyphs" fill="#000" stroke="#000" stroke-width="0.18">XX07</text>
<text x="924.40" y="332.85" font-size="4.9" textLength="14.40" lengthAdjust="spacingAndGlyphs" fill="#000" stroke="#000" stroke-width="0.18">XX08</text>
<text x="924.40" y="360.75" font-size="4.9" textLength="14.40" lengthAdjust="spacingAndGlyphs" fill="#000" stroke="#000" stroke-width="0.18">XX09</text>
<text x="924.40" y="397.95" font-size="4.9" textLength="14.40" lengthAdjust="spacingAndGlyphs" fill="#000" stroke="#000" stroke-width="0.18">XX10</text>
<text x="830.40" y="398.55" font-size="4.9" textLength="14.40" lengthAdjust="spacingAndGlyphs" fill="#000" stroke="#000" stroke-width="0.18">XX14</text>
<text x="863.30" y="398.55" font-size="4.9" textLength="14.40" lengthAdjust="spacingAndGlyphs" fill="#000" stroke="#000" stroke-width="0.18">XX15</text>
<text x="828.20" y="430.75" font-size="4.9" textLength="14.40" lengthAdjust="spacingAndGlyphs" fill="#000" stroke="#000" stroke-width="0.18">XX13</text>
<text x="876.30" y="430.75" font-size="4.9" textLength="14.40" lengthAdjust="spacingAndGlyphs" fill="#000" stroke="#000" stroke-width="0.18">XX12</text>
<text x="913.50" y="430.75" font-size="4.9" textLength="14.40" lengthAdjust="spacingAndGlyphs" fill="#000" stroke="#000" stroke-width="0.18">XX11</text>
<g transform="translate(589.80 570.20)" fill="none" stroke="#2b2728" stroke-width="0.75" stroke-linecap="round" stroke-linejoin="round"><path d="M8.2 9.9A5.3 5.3 0 0 1 18.8 9.9"/><path d="M6.70 9.90L5.30 9.90M7.18 6.25L5.79 5.45M9.85 3.58L9.05 2.19M13.50 2.60L13.50 1.00M17.15 3.58L17.95 2.19M19.82 6.25L21.21 5.45M20.30 9.90L21.70 9.90" stroke-width="0.6"/><path d="M0.4 11.2Q7 10.8 14 11.6T28.2 11.4" stroke-width="0.9"/><path d="M1.8 12.7Q8 12.9 14 13.1T26.5 12.6" stroke-width="0.6"/><path d="M0.3 17Q1.2 14.6 4.6 14.4Q8 14.4 11 16.6Q14.4 19.2 18.4 19.2Q21 19.2 23 18.2Q26 17.2 28.6 18.8" stroke-width="0.8"/><path d="M16.5 16.3H19.2M19.9 14.6H26.5" stroke-width="0.8"/></g>
<text x="561.50" y="605.20" font-size="8.4" textLength="90.00" lengthAdjust="spacingAndGlyphs" fill="#1d1a1b">SEAWATER LAGOON</text>
<g transform="translate(196.60 664.80)" fill="none" stroke="#2b2728" stroke-width="0.75" stroke-linecap="round" stroke-linejoin="round"><path d="M4.3 19.9A4.1 4.1 0 0 1 2.4 12.2A3.2 3.2 0 0 1 3.7 6.3C1.5 7 -0.6 5.4 0.3 3.2C1 1.2 2.8 0 4.6 0.1C6.6 0.3 8.2 1.6 9.1 3.3C11.4 4.4 13 6.6 12.8 9C12.8 10.2 12.6 11.2 12.3 12A4.2 4.2 0 0 1 11 19.9M3.7 6.3C4.8 5.6 6 4.6 6.8 3.4"/><path d="M6.6 23.4V19.6M8.4 23.4V19.6M7.5 19.6V9.6M5.2 10.6L7.5 13.2L9.9 10.6M4.8 15L7.5 17.6L10.3 15" stroke-width="0.7"/><path d="M2.2 23.7H15.4"/><path d="M15.4 23.2C17.4 21.4 19.4 21.6 21.6 22.6C24 23.8 25.6 24.6 28 23.6C30 22.8 31 23.4 32.4 23.2C33.6 23 34.4 22.6 35 22.2M16.6 22.6C19 23.4 21 24.6 23.4 23.4C25.4 22.2 27.4 21.4 29.4 22.6C30.4 23.2 31.4 24 32.4 23.8" stroke-width="0.55"/></g>
<text x="200.85" y="700.60" font-size="8.4" textLength="32.80" lengthAdjust="spacingAndGlyphs" fill="#1d1a1b">GREEN,</text>
<text x="186.50" y="711.60" font-size="8.4" textLength="58.50" lengthAdjust="spacingAndGlyphs" fill="#1d1a1b">WATER VIEW</text>
<g transform="translate(393.80 703.00)" fill="none" stroke="#2b2728" stroke-width="0.75" stroke-linecap="round" stroke-linejoin="round"><circle cx="11.25" cy="2.2" r="1.7"/><path d="M10.6 4.2C10.2 7 9.9 10 9.6 12.8M12.2 4.3C14 5.6 14.8 8 14 10C13.6 11 13 11.8 12.2 12.4M11.4 6C11 8 10.2 9.8 9.2 11.2" stroke-width="0.75"/><path d="M9.9 12.8C9.8 16.6 9.2 20.4 8.4 23.9H10.2M11.6 12.8C13 16.4 15 19.8 17.4 22.6L18.9 22.7" stroke-width="1.15"/><path d="M2.9 14.5C1.6 13.2 1.6 11.2 2.4 9.8C3.2 8.2 4.8 7.4 6.5 7.6C7.4 7.8 8 8.8 8 10.2M5.8 10.2L6.3 16.3M4.4 11.6L5.9 13" stroke-width="0.7"/><path d="M0.4 20.7H7.4M11.4 20.7H15.4M19.4 20.7H24.5L14.6 14.8M0.4 20.7L5.8 16.3" stroke-width="0.75"/></g>
<text x="373.20" y="740.70" font-size="8.4" textLength="66.60" lengthAdjust="spacingAndGlyphs" fill="#1d1a1b">AMENITY VIEW</text>
<g transform="translate(593.40 708.80)" fill="none" stroke="#2b2728" stroke-width="0.75" stroke-linecap="round" stroke-linejoin="round"><circle cx="22.2" cy="5.8" r="3.6"/><circle cx="30.2" cy="4.2" r="4"/><path d="M22.2 14.6V5.4M20.8 7.6L22.2 9L23.6 7.6M30.2 14.6V4M28.6 6.4L30.2 8L31.8 6.4M26.6 8.6V11.4M26 10.8L26.6 11.6L27.2 10.8M19 8.8V10.8M32.6 8.6V11" stroke-width="0.65"/><path d="M0.3 14.6H33.8" stroke-width="0.8"/><path d="M4.4 14.6C6.6 13.8 7.4 12 8.4 10.2C9.4 8.2 11.6 7.6 13.2 8.6M10.4 11.2A3 3 0 1 1 16.4 11.2A3 3 0 1 1 10.4 11.2M11 9C12.6 10 13.6 12 13.2 14.6M9 12C10.4 13.4 12 14.4 13.8 14.6" stroke-width="0.65"/><path d="M3.8 17.1H17" stroke-width="0.7"/></g>
<text x="562.40" y="740.70" font-size="8.4" textLength="95.10" lengthAdjust="spacingAndGlyphs" fill="#1d1a1b">AMENITY-POOL VIEW</text>
<g transform="translate(803.10 703.20)" fill="none" stroke="#2b2728" stroke-width="0.75" stroke-linecap="round" stroke-linejoin="round"><circle cx="11.25" cy="2.2" r="1.7"/><path d="M10.6 4.2C10.2 7 9.9 10 9.6 12.8M12.2 4.3C14 5.6 14.8 8 14 10C13.6 11 13 11.8 12.2 12.4M11.4 6C11 8 10.2 9.8 9.2 11.2" stroke-width="0.75"/><path d="M9.9 12.8C9.8 16.6 9.2 20.4 8.4 23.9H10.2M11.6 12.8C13 16.4 15 19.8 17.4 22.6L18.9 22.7" stroke-width="1.15"/><path d="M2.9 14.5C1.6 13.2 1.6 11.2 2.4 9.8C3.2 8.2 4.8 7.4 6.5 7.6C7.4 7.8 8 8.8 8 10.2M5.8 10.2L6.3 16.3M4.4 11.6L5.9 13" stroke-width="0.7"/><path d="M0.4 20.7H7.4M11.4 20.7H15.4M19.4 20.7H24.5L14.6 14.8M0.4 20.7L5.8 16.3" stroke-width="0.75"/></g>
<text x="782.60" y="740.70" font-size="8.4" textLength="66.30" lengthAdjust="spacingAndGlyphs" fill="#1d1a1b">AMENITY VIEW</text>
<g transform="translate(990.70 665.00)" fill="none" stroke="#2b2728" stroke-width="0.75" stroke-linecap="round" stroke-linejoin="round"><path d="M4.3 19.9A4.1 4.1 0 0 1 2.4 12.2A3.2 3.2 0 0 1 3.7 6.3C1.5 7 -0.6 5.4 0.3 3.2C1 1.2 2.8 0 4.6 0.1C6.6 0.3 8.2 1.6 9.1 3.3C11.4 4.4 13 6.6 12.8 9C12.8 10.2 12.6 11.2 12.3 12A4.2 4.2 0 0 1 11 19.9M3.7 6.3C4.8 5.6 6 4.6 6.8 3.4"/><path d="M6.6 23.4V19.6M8.4 23.4V19.6M7.5 19.6V9.6M5.2 10.6L7.5 13.2L9.9 10.6M4.8 15L7.5 17.6L10.3 15" stroke-width="0.7"/><path d="M2.2 23.7H15.4"/><path d="M15.4 23.2C17.4 21.4 19.4 21.6 21.6 22.6C24 23.8 25.6 24.6 28 23.6C30 22.8 31 23.4 32.4 23.2C33.6 23 34.4 22.6 35 22.2M16.6 22.6C19 23.4 21 24.6 23.4 23.4C25.4 22.2 27.4 21.4 29.4 22.6C30.4 23.2 31.4 24 32.4 23.8" stroke-width="0.55"/></g>
<text x="980.00" y="700.80" font-size="8.4" textLength="59.00" lengthAdjust="spacingAndGlyphs" fill="#1d1a1b">GREEN VIEW,</text>
<text x="964.30" y="711.70" font-size="8.4" textLength="90.00" lengthAdjust="spacingAndGlyphs" fill="#1d1a1b">SEAWATER LAGOON</text>
<g transform="translate(593.90 873.60)" fill="none" stroke="#2b2728" stroke-width="0.75" stroke-linecap="round" stroke-linejoin="round"><path d="M4.3 19.9A4.1 4.1 0 0 1 2.4 12.2A3.2 3.2 0 0 1 3.7 6.3C1.5 7 -0.6 5.4 0.3 3.2C1 1.2 2.8 0 4.6 0.1C6.6 0.3 8.2 1.6 9.1 3.3C11.4 4.4 13 6.6 12.8 9C12.8 10.2 12.6 11.2 12.3 12A4.2 4.2 0 0 1 11 19.9M3.7 6.3C4.8 5.6 6 4.6 6.8 3.4"/><path d="M6.6 23.4V19.6M8.4 23.4V19.6M7.5 19.6V9.6M5.2 10.6L7.5 13.2L9.9 10.6M4.8 15L7.5 17.6L10.3 15" stroke-width="0.7"/><path d="M2.2 23.7H15.4"/><path d="M15.4 23.2C17.4 21.4 19.4 21.6 21.6 22.6C24 23.8 25.6 24.6 28 23.6C30 22.8 31 23.4 32.4 23.2C33.6 23 34.4 22.6 35 22.2M16.6 22.6C19 23.4 21 24.6 23.4 23.4C25.4 22.2 27.4 21.4 29.4 22.6C30.4 23.2 31.4 24 32.4 23.8" stroke-width="0.55"/></g>
<text x="564.60" y="909.90" font-size="8.4" textLength="85.40" lengthAdjust="spacingAndGlyphs" fill="#1d1a1b">PARK, WATER VIEW</text>
<text x="576.50" y="934.80" font-size="14" textLength="61.60" lengthAdjust="spacingAndGlyphs" fill="#1a1a1a">LEVEL 06</text>
<text x="280.10" y="617.80" font-size="8.0" textLength="41.90" lengthAdjust="spacingAndGlyphs" fill="#1d1a1b">TOWER A</text>
<text x="487.40" y="624.80" font-size="8.0" textLength="41.40" lengthAdjust="spacingAndGlyphs" fill="#1d1a1b">TOWER B</text>
<text x="685.30" y="624.80" font-size="8.0" textLength="41.70" lengthAdjust="spacingAndGlyphs" fill="#1d1a1b">TOWER C</text>
<text x="892.70" y="617.80" font-size="8.0" textLength="41.80" lengthAdjust="spacingAndGlyphs" fill="#1d1a1b">TOWER D</text>
<g transform="translate(273.40 636.50) scale(1.0)"><path d="M0 186.2V2.4Q0 0 2.4 0H25.6V6.1H30.8V0H54.2Q56.6 0 56.6 2.4V152.5Q56.6 161.5 66.5 161.5H124Q126.4 161.5 126.4 163.9V185.6H54.2V186.2Z" fill="#fff" stroke="none" stroke-width="0" /><path d="M0 191.7H126.4V214.5Q126.4 216.9 124 216.9H2.4Q0 216.9 0 214.5Z" fill="#fff" stroke="#231f20" stroke-width="1.05" /><rect x="77.40" y="191.70" width="10.30" height="25.20" fill="#d4ecf9" stroke="#231f20" stroke-width="1.05"/><path d="M42.30 191.70L42.30 216.90" stroke="#231f20" stroke-width="1.05" fill="none"/><rect x="14.80" y="50.10" width="9.40" height="10.70" fill="#dad7ea" stroke="#231f20" stroke-width="1.05"/><rect x="14.80" y="60.80" width="9.40" height="5.40" fill="#cbc9c9" stroke="#231f20" stroke-width="1.05"/><rect x="14.80" y="66.20" width="9.40" height="5.70" fill="#cbc9c9" stroke="#231f20" stroke-width="1.05"/><rect x="31.40" y="50.10" width="10.10" height="21.80" fill="#d4ecf9" stroke="#231f20" stroke-width="1.05"/><rect x="31.40" y="163.10" width="6.10" height="9.00" fill="#a9a7a7" stroke="#231f20" stroke-width="1.05"/><rect x="37.50" y="163.10" width="6.90" height="9.00" fill="#cbc9c9" stroke="#231f20" stroke-width="1.05"/><rect x="44.40" y="163.10" width="9.80" height="12.70" fill="#cbc9c9" stroke="#231f20" stroke-width="1.05"/><path d="M24.2 186.4V33.9Q24.2 31.7 26.4 31.7H29.2Q31.4 31.7 31.4 33.9V172.1H44.4V175.8H31.4V183.9H54.2V186.4H116.1V191.7H14.8V186.4Z" fill="#d4ecf9" stroke="#231f20" stroke-width="1.05" /><rect x="31.90" y="176.40" width="9.70" height="7.20" fill="#dad7ea" stroke="#231f20" stroke-width="0.6"/><rect x="42.20" y="176.40" width="11.70" height="7.20" fill="#dad7ea" stroke="#231f20" stroke-width="0.6"/><path d="M0 186.2V2.4Q0 0 2.4 0H25.6V6.1H30.8V0H54.2Q56.6 0 56.6 2.4V152.5Q56.6 161.5 66.5 161.5H124Q126.4 161.5 126.4 163.9V185.6" fill="none" stroke="#231f20" stroke-width="1.05" /><path d="M0.00 186.20L24.20 186.20" stroke="#231f20" stroke-width="1.05" fill="none"/><path d="M54.20 185.80L126.40 185.80" stroke="#231f20" stroke-width="1.05" fill="none"/><path d="M54.20 163.10L54.20 186.00" stroke="#231f20" stroke-width="1.05" fill="none"/><path d="M59.40 158.80L54.20 163.10" stroke="#231f20" stroke-width="1.05" fill="none"/><path d="M87.70 161.50L87.70 185.80" stroke="#231f20" stroke-width="1.05" fill="none"/><path d="M28.20 6.10L28.20 31.70" stroke="#231f20" stroke-width="0.7" fill="none"/><path d="M0.00 50.10L14.80 50.10" stroke="#231f20" stroke-width="1.05" fill="none"/><path d="M0.00 94.90L24.20 94.90" stroke="#231f20" stroke-width="1.05" fill="none"/><path d="M0.00 117.70L24.20 117.70" stroke="#231f20" stroke-width="1.05" fill="none"/><path d="M0.00 140.90L24.20 140.90" stroke="#231f20" stroke-width="1.05" fill="none"/><path d="M0.00 163.10L24.20 163.10" stroke="#231f20" stroke-width="1.05" fill="none"/><path d="M14.80 50.10L24.20 50.10" stroke="#231f20" stroke-width="1.05" fill="none"/><path d="M31.40 50.10L56.60 50.10" stroke="#231f20" stroke-width="1.05" fill="none"/><path d="M31.40 94.90L56.60 94.90" stroke="#231f20" stroke-width="1.05" fill="none"/><path d="M31.40 117.70L56.60 117.70" stroke="#231f20" stroke-width="1.05" fill="none"/><path d="M31.40 140.90L56.60 140.90" stroke="#231f20" stroke-width="1.05" fill="none"/><path d="M31.40 163.10L54.20 163.10" stroke="#231f20" stroke-width="1.05" fill="none"/><path d="M24.20 36.20L20.60 36.20A3.6 3.6 0 0 1 24.20 32.60" fill="#fff" stroke="#231f20" stroke-width="1.1" /><path d="M31.40 36.20L35.00 36.20A3.6 3.6 0 0 0 31.40 32.60" fill="#fff" stroke="#231f20" stroke-width="1.1" /><path d="M24.20 84.30L20.50 84.30A3.7 3.7 0 0 1 24.20 80.60" fill="#fff" stroke="#231f20" stroke-width="1.1" /><path d="M24.20 106.80L20.50 106.80A3.7 3.7 0 0 0 24.20 110.50" fill="#fff" stroke="#231f20" stroke-width="1.1" /><path d="M24.20 128.60L20.50 128.60A3.7 3.7 0 0 1 24.20 124.90" fill="#fff" stroke="#231f20" stroke-width="1.1" /><path d="M24.20 153.40L20.50 153.40A3.7 3.7 0 0 0 24.20 157.10" fill="#fff" stroke="#231f20" stroke-width="1.1" /><path d="M24.20 174.60L20.50 174.60A3.7 3.7 0 0 1 24.20 170.90" fill="#fff" stroke="#231f20" stroke-width="1.1" /><path d="M31.40 84.30L35.10 84.30A3.7 3.7 0 0 0 31.40 80.60" fill="#fff" stroke="#231f20" stroke-width="1.1" /><path d="M31.40 106.80L35.10 106.80A3.7 3.7 0 0 1 31.40 110.50" fill="#fff" stroke="#231f20" stroke-width="1.1" /><path d="M31.40 128.60L35.10 128.60A3.7 3.7 0 0 0 31.40 124.90" fill="#fff" stroke="#231f20" stroke-width="1.1" /><path d="M31.40 151.60L35.10 151.60A3.7 3.7 0 0 0 31.40 147.90" fill="#fff" stroke="#231f20" stroke-width="1.1" /><path d="M78.00 186.00L78.00 182.10A3.9 3.9 0 0 0 74.10 186.00" fill="#fff" stroke="#231f20" stroke-width="1.1" /><path d="M110.30 186.00L110.30 182.20A3.8 3.8 0 0 1 114.10 186.00" fill="#fff" stroke="#231f20" stroke-width="1.1" /><path d="M16.20 191.70L16.20 195.60A3.9 3.9 0 0 0 20.10 191.70" fill="#fff" stroke="#231f20" stroke-width="1.1" /><path d="M65.90 191.70L65.90 195.60A3.9 3.9 0 0 1 62.00 191.70" fill="#fff" stroke="#231f20" stroke-width="1.1" /><path d="M110.30 191.70L110.30 195.50A3.8 3.8 0 0 0 114.10 191.70" fill="#fff" stroke="#231f20" stroke-width="1.1" /></g>
<g transform="translate(481.30 643.20) scale(1.0)"><path d="M0 2.4Q0 0 2.4 0H25.7V6.3H30.8V0H54.2Q56.6 0 56.6 2.4V212.6Q56.6 216.2 53 216.2H43.6Q41 216.2 40.6 213.2Q40.2 210.2 37.4 210.2H30.8V203.2H25.7V210.2H19.2Q16.4 210.2 16 213.2Q15.6 216.2 13 216.2H3.6Q0 216.2 0 212.6Z" fill="#fff" stroke="none" stroke-width="0" /><rect x="14.80" y="49.80" width="10.00" height="23.40" fill="#d4ecf9" stroke="#231f20" stroke-width="1.05"/><rect x="31.80" y="49.80" width="10.90" height="10.30" fill="#cbc9c9" stroke="#231f20" stroke-width="1.05"/><rect x="31.80" y="60.10" width="10.90" height="6.70" fill="#cbc9c9" stroke="#231f20" stroke-width="1.05"/><rect x="31.80" y="66.80" width="10.90" height="6.40" fill="#cbc9c9" stroke="#231f20" stroke-width="1.05"/><rect x="14.80" y="163.60" width="7.80" height="11.50" fill="#dad7ea" stroke="#231f20" stroke-width="1.05"/><rect x="14.80" y="175.10" width="7.80" height="10.30" fill="#dad7ea" stroke="#231f20" stroke-width="1.05"/><rect x="31.80" y="163.60" width="7.50" height="5.20" fill="#a9a7a7" stroke="#231f20" stroke-width="1.05"/><rect x="39.30" y="163.60" width="6.30" height="5.20" fill="#cbc9c9" stroke="#231f20" stroke-width="1.05"/><rect x="45.60" y="163.60" width="11.00" height="11.50" fill="#dad7ea" stroke="#231f20" stroke-width="1.05"/><rect x="31.80" y="176.20" width="24.80" height="9.20" fill="#d4ecf9" stroke="#231f20" stroke-width="1.05"/><path d="M24.8 34.5Q24.8 32.3 27 32.3H29.6Q31.8 32.3 31.8 34.5V168.8H45.6V175.1H31.8V185.4H31.2V203.2H25.2V185.4H22.9V163.6H24.8Z" fill="#d4ecf9" stroke="#231f20" stroke-width="1.05" /><path d="M0 2.4Q0 0 2.4 0H25.7V6.3H30.8V0H54.2Q56.6 0 56.6 2.4V212.6Q56.6 216.2 53 216.2H43.6Q41 216.2 40.6 213.2Q40.2 210.2 37.4 210.2H30.8V203.2M25.7 203.2V210.2H19.2Q16.4 210.2 16 213.2Q15.6 216.2 13 216.2H3.6Q0 216.2 0 212.6V2.4" fill="none" stroke="#231f20" stroke-width="1.05" /><path d="M28.30 6.30L28.30 32.30" stroke="#231f20" stroke-width="0.6" fill="none"/><path d="M0.00 49.80L14.80 49.80" stroke="#231f20" stroke-width="1.05" fill="none"/><path d="M42.70 49.80L56.60 49.80" stroke="#231f20" stroke-width="1.05" fill="none"/><path d="M0.00 94.60L24.80 94.60" stroke="#231f20" stroke-width="1.05" fill="none"/><path d="M31.80 94.60L56.60 94.60" stroke="#231f20" stroke-width="1.05" fill="none"/><path d="M0.00 117.60L24.80 117.60" stroke="#231f20" stroke-width="1.05" fill="none"/><path d="M31.80 117.60L56.60 117.60" stroke="#231f20" stroke-width="1.05" fill="none"/><path d="M0.00 140.60L24.80 140.60" stroke="#231f20" stroke-width="1.05" fill="none"/><path d="M31.80 140.60L56.60 140.60" stroke="#231f20" stroke-width="1.05" fill="none"/><path d="M14.80 49.80L24.80 49.80" stroke="#231f20" stroke-width="1.05" fill="none"/><path d="M31.80 49.80L42.70 49.80" stroke="#231f20" stroke-width="1.05" fill="none"/><path d="M14.80 163.60L22.90 163.60" stroke="#231f20" stroke-width="1.05" fill="none"/><path d="M0.00 185.40L25.20 185.40" stroke="#231f20" stroke-width="1.05" fill="none"/><path d="M31.20 185.40L56.60 185.40" stroke="#231f20" stroke-width="1.05" fill="none"/><path d="M24.80 36.50L21.10 36.50A3.7 3.7 0 0 1 24.80 32.80" fill="#fff" stroke="#231f20" stroke-width="1.1" /><path d="M31.80 36.50L35.50 36.50A3.7 3.7 0 0 0 31.80 32.80" fill="#fff" stroke="#231f20" stroke-width="1.1" /><path d="M24.80 83.70L21.10 83.70A3.7 3.7 0 0 1 24.80 80.00" fill="#fff" stroke="#231f20" stroke-width="1.1" /><path d="M31.80 83.70L35.50 83.70A3.7 3.7 0 0 0 31.80 80.00" fill="#fff" stroke="#231f20" stroke-width="1.1" /><path d="M24.80 106.80L21.10 106.80A3.7 3.7 0 0 0 24.80 110.50" fill="#fff" stroke="#231f20" stroke-width="1.1" /><path d="M31.80 106.80L35.50 106.80A3.7 3.7 0 0 1 31.80 110.50" fill="#fff" stroke="#231f20" stroke-width="1.1" /><path d="M24.80 127.90L21.10 127.90A3.7 3.7 0 0 1 24.80 124.20" fill="#fff" stroke="#231f20" stroke-width="1.1" /><path d="M31.80 127.90L35.50 127.90A3.7 3.7 0 0 0 31.80 124.20" fill="#fff" stroke="#231f20" stroke-width="1.1" /><path d="M24.80 151.50L21.10 151.50A3.7 3.7 0 0 0 24.80 155.20" fill="#fff" stroke="#231f20" stroke-width="1.1" /><path d="M31.80 151.50L35.50 151.50A3.7 3.7 0 0 1 31.80 155.20" fill="#fff" stroke="#231f20" stroke-width="1.1" /><path d="M25.20 198.10L21.50 198.10A3.7 3.7 0 0 0 25.20 201.80" fill="#fff" stroke="#231f20" stroke-width="1.1" /><path d="M31.20 198.10L34.90 198.10A3.7 3.7 0 0 1 31.20 201.80" fill="#fff" stroke="#231f20" stroke-width="1.1" /></g>
<g transform="translate(736.90 643.20) scale(-1.0 1.0)"><path d="M0 2.4Q0 0 2.4 0H25.7V6.3H30.8V0H54.2Q56.6 0 56.6 2.4V212.6Q56.6 216.2 53 216.2H43.6Q41 216.2 40.6 213.2Q40.2 210.2 37.4 210.2H30.8V203.2H25.7V210.2H19.2Q16.4 210.2 16 213.2Q15.6 216.2 13 216.2H3.6Q0 216.2 0 212.6Z" fill="#fff" stroke="none" stroke-width="0" /><rect x="14.80" y="49.80" width="10.00" height="23.40" fill="#d4ecf9" stroke="#231f20" stroke-width="1.05"/><rect x="31.80" y="49.80" width="10.90" height="10.30" fill="#cbc9c9" stroke="#231f20" stroke-width="1.05"/><rect x="31.80" y="60.10" width="10.90" height="6.70" fill="#cbc9c9" stroke="#231f20" stroke-width="1.05"/><rect x="31.80" y="66.80" width="10.90" height="6.40" fill="#cbc9c9" stroke="#231f20" stroke-width="1.05"/><rect x="14.80" y="163.60" width="7.80" height="11.50" fill="#dad7ea" stroke="#231f20" stroke-width="1.05"/><rect x="14.80" y="175.10" width="7.80" height="10.30" fill="#dad7ea" stroke="#231f20" stroke-width="1.05"/><rect x="31.80" y="163.60" width="7.50" height="5.20" fill="#a9a7a7" stroke="#231f20" stroke-width="1.05"/><rect x="39.30" y="163.60" width="6.30" height="5.20" fill="#cbc9c9" stroke="#231f20" stroke-width="1.05"/><rect x="45.60" y="163.60" width="11.00" height="11.50" fill="#dad7ea" stroke="#231f20" stroke-width="1.05"/><rect x="31.80" y="176.20" width="24.80" height="9.20" fill="#d4ecf9" stroke="#231f20" stroke-width="1.05"/><path d="M24.8 34.5Q24.8 32.3 27 32.3H29.6Q31.8 32.3 31.8 34.5V168.8H45.6V175.1H31.8V185.4H31.2V203.2H25.2V185.4H22.9V163.6H24.8Z" fill="#d4ecf9" stroke="#231f20" stroke-width="1.05" /><path d="M0 2.4Q0 0 2.4 0H25.7V6.3H30.8V0H54.2Q56.6 0 56.6 2.4V212.6Q56.6 216.2 53 216.2H43.6Q41 216.2 40.6 213.2Q40.2 210.2 37.4 210.2H30.8V203.2M25.7 203.2V210.2H19.2Q16.4 210.2 16 213.2Q15.6 216.2 13 216.2H3.6Q0 216.2 0 212.6V2.4" fill="none" stroke="#231f20" stroke-width="1.05" /><path d="M28.30 6.30L28.30 32.30" stroke="#231f20" stroke-width="0.6" fill="none"/><path d="M0.00 49.80L14.80 49.80" stroke="#231f20" stroke-width="1.05" fill="none"/><path d="M42.70 49.80L56.60 49.80" stroke="#231f20" stroke-width="1.05" fill="none"/><path d="M0.00 94.60L24.80 94.60" stroke="#231f20" stroke-width="1.05" fill="none"/><path d="M31.80 94.60L56.60 94.60" stroke="#231f20" stroke-width="1.05" fill="none"/><path d="M0.00 117.60L24.80 117.60" stroke="#231f20" stroke-width="1.05" fill="none"/><path d="M31.80 117.60L56.60 117.60" stroke="#231f20" stroke-width="1.05" fill="none"/><path d="M0.00 140.60L24.80 140.60" stroke="#231f20" stroke-width="1.05" fill="none"/><path d="M31.80 140.60L56.60 140.60" stroke="#231f20" stroke-width="1.05" fill="none"/><path d="M14.80 49.80L24.80 49.80" stroke="#231f20" stroke-width="1.05" fill="none"/><path d="M31.80 49.80L42.70 49.80" stroke="#231f20" stroke-width="1.05" fill="none"/><path d="M14.80 163.60L22.90 163.60" stroke="#231f20" stroke-width="1.05" fill="none"/><path d="M0.00 185.40L25.20 185.40" stroke="#231f20" stroke-width="1.05" fill="none"/><path d="M31.20 185.40L56.60 185.40" stroke="#231f20" stroke-width="1.05" fill="none"/><path d="M24.80 36.50L21.10 36.50A3.7 3.7 0 0 1 24.80 32.80" fill="#fff" stroke="#231f20" stroke-width="1.1" /><path d="M31.80 36.50L35.50 36.50A3.7 3.7 0 0 0 31.80 32.80" fill="#fff" stroke="#231f20" stroke-width="1.1" /><path d="M24.80 83.70L21.10 83.70A3.7 3.7 0 0 1 24.80 80.00" fill="#fff" stroke="#231f20" stroke-width="1.1" /><path d="M31.80 83.70L35.50 83.70A3.7 3.7 0 0 0 31.80 80.00" fill="#fff" stroke="#231f20" stroke-width="1.1" /><path d="M24.80 106.80L21.10 106.80A3.7 3.7 0 0 0 24.80 110.50" fill="#fff" stroke="#231f20" stroke-width="1.1" /><path d="M31.80 106.80L35.50 106.80A3.7 3.7 0 0 1 31.80 110.50" fill="#fff" stroke="#231f20" stroke-width="1.1" /><path d="M24.80 127.90L21.10 127.90A3.7 3.7 0 0 1 24.80 124.20" fill="#fff" stroke="#231f20" stroke-width="1.1" /><path d="M31.80 127.90L35.50 127.90A3.7 3.7 0 0 0 31.80 124.20" fill="#fff" stroke="#231f20" stroke-width="1.1" /><path d="M24.80 151.50L21.10 151.50A3.7 3.7 0 0 0 24.80 155.20" fill="#fff" stroke="#231f20" stroke-width="1.1" /><path d="M31.80 151.50L35.50 151.50A3.7 3.7 0 0 1 31.80 155.20" fill="#fff" stroke="#231f20" stroke-width="1.1" /><path d="M25.20 198.10L21.50 198.10A3.7 3.7 0 0 0 25.20 201.80" fill="#fff" stroke="#231f20" stroke-width="1.1" /><path d="M31.20 198.10L34.90 198.10A3.7 3.7 0 0 1 31.20 201.80" fill="#fff" stroke="#231f20" stroke-width="1.1" /></g>
<g transform="translate(944.60 636.50) scale(-1.0 1.0)"><path d="M0 186.2V2.4Q0 0 2.4 0H25.6V6.1H30.8V0H54.2Q56.6 0 56.6 2.4V152.5Q56.6 161.5 66.5 161.5H124Q126.4 161.5 126.4 163.9V185.6H54.2V186.2Z" fill="#fff" stroke="none" stroke-width="0" /><path d="M0 191.7H126.4V214.5Q126.4 216.9 124 216.9H2.4Q0 216.9 0 214.5Z" fill="#fff" stroke="#231f20" stroke-width="1.05" /><rect x="77.40" y="191.70" width="10.30" height="25.20" fill="#d4ecf9" stroke="#231f20" stroke-width="1.05"/><path d="M42.30 191.70L42.30 216.90" stroke="#231f20" stroke-width="1.05" fill="none"/><path d="M0 191.7H42.3V216.9H2.4Q0 216.9 0 214.5Z" fill="#6aa9d9" stroke="#231f20" stroke-width="1.05" /><rect x="14.80" y="50.10" width="9.40" height="10.70" fill="#dad7ea" stroke="#231f20" stroke-width="1.05"/><rect x="14.80" y="60.80" width="9.40" height="5.40" fill="#cbc9c9" stroke="#231f20" stroke-width="1.05"/><rect x="14.80" y="66.20" width="9.40" height="5.70" fill="#cbc9c9" stroke="#231f20" stroke-width="1.05"/><rect x="31.40" y="50.10" width="10.10" height="21.80" fill="#d4ecf9" stroke="#231f20" stroke-width="1.05"/><rect x="31.40" y="163.10" width="6.10" height="9.00" fill="#a9a7a7" stroke="#231f20" stroke-width="1.05"/><rect x="37.50" y="163.10" width="6.90" height="9.00" fill="#cbc9c9" stroke="#231f20" stroke-width="1.05"/><rect x="44.40" y="163.10" width="9.80" height="12.70" fill="#cbc9c9" stroke="#231f20" stroke-width="1.05"/><path d="M24.2 186.4V33.9Q24.2 31.7 26.4 31.7H29.2Q31.4 31.7 31.4 33.9V172.1H44.4V175.8H31.4V183.9H54.2V186.4H116.1V191.7H14.8V186.4Z" fill="#d4ecf9" stroke="#231f20" stroke-width="1.05" /><rect x="31.90" y="176.40" width="9.70" height="7.20" fill="#dad7ea" stroke="#231f20" stroke-width="0.6"/><rect x="42.20" y="176.40" width="11.70" height="7.20" fill="#dad7ea" stroke="#231f20" stroke-width="0.6"/><path d="M0 186.2V2.4Q0 0 2.4 0H25.6V6.1H30.8V0H54.2Q56.6 0 56.6 2.4V152.5Q56.6 161.5 66.5 161.5H124Q126.4 161.5 126.4 163.9V185.6" fill="none" stroke="#231f20" stroke-width="1.05" /><path d="M0.00 186.20L24.20 186.20" stroke="#231f20" stroke-width="1.05" fill="none"/><path d="M54.20 185.80L126.40 185.80" stroke="#231f20" stroke-width="1.05" fill="none"/><path d="M54.20 163.10L54.20 186.00" stroke="#231f20" stroke-width="1.05" fill="none"/><path d="M59.40 158.80L54.20 163.10" stroke="#231f20" stroke-width="1.05" fill="none"/><path d="M87.70 161.50L87.70 185.80" stroke="#231f20" stroke-width="1.05" fill="none"/><path d="M28.20 6.10L28.20 31.70" stroke="#231f20" stroke-width="0.7" fill="none"/><path d="M0.00 50.10L14.80 50.10" stroke="#231f20" stroke-width="1.05" fill="none"/><path d="M0.00 94.90L24.20 94.90" stroke="#231f20" stroke-width="1.05" fill="none"/><path d="M0.00 117.70L24.20 117.70" stroke="#231f20" stroke-width="1.05" fill="none"/><path d="M0.00 152.20L24.20 152.20" stroke="#231f20" stroke-width="1.05" fill="none"/><path d="M14.80 50.10L24.20 50.10" stroke="#231f20" stroke-width="1.05" fill="none"/><path d="M31.40 50.10L56.60 50.10" stroke="#231f20" stroke-width="1.05" fill="none"/><path d="M31.40 94.90L56.60 94.90" stroke="#231f20" stroke-width="1.05" fill="none"/><path d="M31.40 117.70L56.60 117.70" stroke="#231f20" stroke-width="1.05" fill="none"/><path d="M31.40 140.90L56.60 140.90" stroke="#231f20" stroke-width="1.05" fill="none"/><path d="M31.40 163.10L54.20 163.10" stroke="#231f20" stroke-width="1.05" fill="none"/><path d="M24.20 36.20L20.60 36.20A3.6 3.6 0 0 1 24.20 32.60" fill="#fff" stroke="#231f20" stroke-width="1.1" /><path d="M31.40 36.20L35.00 36.20A3.6 3.6 0 0 0 31.40 32.60" fill="#fff" stroke="#231f20" stroke-width="1.1" /><path d="M24.20 84.30L20.50 84.30A3.7 3.7 0 0 1 24.20 80.60" fill="#fff" stroke="#231f20" stroke-width="1.1" /><path d="M24.20 106.80L20.50 106.80A3.7 3.7 0 0 0 24.20 110.50" fill="#fff" stroke="#231f20" stroke-width="1.1" /><path d="M24.20 129.20L20.50 129.20A3.7 3.7 0 0 0 24.20 132.90" fill="#fff" stroke="#231f20" stroke-width="1.1" /><path d="M24.20 175.10L20.50 175.10A3.7 3.7 0 0 1 24.20 171.40" fill="#fff" stroke="#231f20" stroke-width="1.1" /><path d="M31.40 84.30L35.10 84.30A3.7 3.7 0 0 0 31.40 80.60" fill="#fff" stroke="#231f20" stroke-width="1.1" /><path d="M31.40 106.80L35.10 106.80A3.7 3.7 0 0 1 31.40 110.50" fill="#fff" stroke="#231f20" stroke-width="1.1" /><path d="M31.40 128.60L35.10 128.60A3.7 3.7 0 0 0 31.40 124.90" fill="#fff" stroke="#231f20" stroke-width="1.1" /><path d="M31.40 151.60L35.10 151.60A3.7 3.7 0 0 0 31.40 147.90" fill="#fff" stroke="#231f20" stroke-width="1.1" /><path d="M78.00 186.00L78.00 182.10A3.9 3.9 0 0 0 74.10 186.00" fill="#fff" stroke="#231f20" stroke-width="1.1" /><path d="M110.30 186.00L110.30 182.20A3.8 3.8 0 0 1 114.10 186.00" fill="#fff" stroke="#231f20" stroke-width="1.1" /><path d="M16.20 191.70L16.20 195.60A3.9 3.9 0 0 0 20.10 191.70" fill="#6aa9d9" stroke="#231f20" stroke-width="1.1" /><path d="M65.90 191.70L65.90 195.60A3.9 3.9 0 0 1 62.00 191.70" fill="#fff" stroke="#231f20" stroke-width="1.1" /><path d="M110.30 191.70L110.30 195.50A3.8 3.8 0 0 0 114.10 191.70" fill="#fff" stroke="#231f20" stroke-width="1.1" /></g>
<text x="280.10" y="661.95" font-size="4.9" textLength="14.40" lengthAdjust="spacingAndGlyphs" fill="#000" stroke="#000" stroke-width="0.18">XX11</text>
<text x="307.60" y="661.95" font-size="4.9" textLength="14.40" lengthAdjust="spacingAndGlyphs" fill="#000" stroke="#000" stroke-width="0.18">XX12</text>
<text x="277.40" y="722.75" font-size="4.9" textLength="14.40" lengthAdjust="spacingAndGlyphs" fill="#000" stroke="#000" stroke-width="0.18">XX10</text>
<text x="310.60" y="722.75" font-size="4.9" textLength="14.40" lengthAdjust="spacingAndGlyphs" fill="#000" stroke="#000" stroke-width="0.18">XX13</text>
<text x="277.40" y="745.75" font-size="4.9" textLength="14.40" lengthAdjust="spacingAndGlyphs" fill="#000" stroke="#000" stroke-width="0.18">XX09</text>
<text x="310.60" y="745.75" font-size="4.9" textLength="14.40" lengthAdjust="spacingAndGlyphs" fill="#000" stroke="#000" stroke-width="0.18">XX14</text>
<text x="277.40" y="767.65" font-size="4.9" textLength="14.40" lengthAdjust="spacingAndGlyphs" fill="#000" stroke="#000" stroke-width="0.18">XX08</text>
<text x="310.60" y="767.65" font-size="4.9" textLength="14.40" lengthAdjust="spacingAndGlyphs" fill="#000" stroke="#000" stroke-width="0.18">XX15</text>
<text x="277.40" y="790.65" font-size="4.9" textLength="14.40" lengthAdjust="spacingAndGlyphs" fill="#000" stroke="#000" stroke-width="0.18">XX07</text>
<text x="310.60" y="790.65" font-size="4.9" textLength="14.40" lengthAdjust="spacingAndGlyphs" fill="#000" stroke="#000" stroke-width="0.18">XX16</text>
<text x="277.60" y="813.65" font-size="4.9" textLength="14.40" lengthAdjust="spacingAndGlyphs" fill="#000" stroke="#000" stroke-width="0.18">XX06</text>
<text x="338.40" y="812.35" font-size="4.9" textLength="14.40" lengthAdjust="spacingAndGlyphs" fill="#000" stroke="#000" stroke-width="0.18">XX01</text>
<text x="371.60" y="812.35" font-size="4.9" textLength="14.40" lengthAdjust="spacingAndGlyphs" fill="#000" stroke="#000" stroke-width="0.18">XX02</text>
<text x="287.00" y="843.65" font-size="4.9" textLength="14.40" lengthAdjust="spacingAndGlyphs" fill="#000" stroke="#000" stroke-width="0.18">XX05</text>
<text x="326.50" y="843.65" font-size="4.9" textLength="14.40" lengthAdjust="spacingAndGlyphs" fill="#000" stroke="#000" stroke-width="0.18">XX04</text>
<text x="373.20" y="843.65" font-size="4.9" textLength="14.40" lengthAdjust="spacingAndGlyphs" fill="#000" stroke="#000" stroke-width="0.18">XX03</text>
<text x="488.40" y="667.95" font-size="4.9" textLength="14.40" lengthAdjust="spacingAndGlyphs" fill="#000" stroke="#000" stroke-width="0.18">XX05</text>
<text x="516.20" y="667.95" font-size="4.9" textLength="14.40" lengthAdjust="spacingAndGlyphs" fill="#000" stroke="#000" stroke-width="0.18">XX06</text>
<text x="485.80" y="728.65" font-size="4.9" textLength="14.40" lengthAdjust="spacingAndGlyphs" fill="#000" stroke="#000" stroke-width="0.18">XX04</text>
<text x="518.80" y="728.65" font-size="4.9" textLength="14.40" lengthAdjust="spacingAndGlyphs" fill="#000" stroke="#000" stroke-width="0.18">XX07</text>
<text x="485.80" y="753.85" font-size="4.9" textLength="14.40" lengthAdjust="spacingAndGlyphs" fill="#000" stroke="#000" stroke-width="0.18">XX03</text>
<text x="518.80" y="753.85" font-size="4.9" textLength="14.40" lengthAdjust="spacingAndGlyphs" fill="#000" stroke="#000" stroke-width="0.18">XX08</text>
<text x="485.80" y="775.55" font-size="4.9" textLength="14.40" lengthAdjust="spacingAndGlyphs" fill="#000" stroke="#000" stroke-width="0.18">XX02</text>
<text x="518.80" y="776.85" font-size="4.9" textLength="14.40" lengthAdjust="spacingAndGlyphs" fill="#000" stroke="#000" stroke-width="0.18">XX09</text>
<text x="485.80" y="798.65" font-size="4.9" textLength="14.40" lengthAdjust="spacingAndGlyphs" fill="#000" stroke="#000" stroke-width="0.18">XX01</text>
<text x="518.80" y="798.65" font-size="4.9" textLength="14.40" lengthAdjust="spacingAndGlyphs" fill="#000" stroke="#000" stroke-width="0.18">XX10</text>
<text x="485.80" y="844.85" font-size="4.9" textLength="14.40" lengthAdjust="spacingAndGlyphs" fill="#000" stroke="#000" stroke-width="0.18">XX12</text>
<text x="518.80" y="846.65" font-size="4.9" textLength="14.40" lengthAdjust="spacingAndGlyphs" fill="#000" stroke="#000" stroke-width="0.18">XX11</text>
<text x="686.70" y="667.95" font-size="4.9" textLength="14.40" lengthAdjust="spacingAndGlyphs" fill="#000" stroke="#000" stroke-width="0.18">XX07</text>
<text x="714.80" y="667.95" font-size="4.9" textLength="14.40" lengthAdjust="spacingAndGlyphs" fill="#000" stroke="#000" stroke-width="0.18">XX08</text>
<text x="684.10" y="728.65" font-size="4.9" textLength="14.40" lengthAdjust="spacingAndGlyphs" fill="#000" stroke="#000" stroke-width="0.18">XX06</text>
<text x="717.40" y="728.65" font-size="4.9" textLength="14.40" lengthAdjust="spacingAndGlyphs" fill="#000" stroke="#000" stroke-width="0.18">XX09</text>
<text x="684.10" y="753.85" font-size="4.9" textLength="14.40" lengthAdjust="spacingAndGlyphs" fill="#000" stroke="#000" stroke-width="0.18">XX05</text>
<text x="717.40" y="753.85" font-size="4.9" textLength="14.40" lengthAdjust="spacingAndGlyphs" fill="#000" stroke="#000" stroke-width="0.18">XX10</text>
<text x="684.10" y="776.85" font-size="4.9" textLength="14.40" lengthAdjust="spacingAndGlyphs" fill="#000" stroke="#000" stroke-width="0.18">XX04</text>
<text x="717.40" y="775.55" font-size="4.9" textLength="14.40" lengthAdjust="spacingAndGlyphs" fill="#000" stroke="#000" stroke-width="0.18">XX11</text>
<text x="684.10" y="798.65" font-size="4.9" textLength="14.40" lengthAdjust="spacingAndGlyphs" fill="#000" stroke="#000" stroke-width="0.18">XX03</text>
<text x="717.40" y="798.65" font-size="4.9" textLength="14.40" lengthAdjust="spacingAndGlyphs" fill="#000" stroke="#000" stroke-width="0.18">XX12</text>
<text x="684.10" y="845.85" font-size="4.9" textLength="14.40" lengthAdjust="spacingAndGlyphs" fill="#000" stroke="#000" stroke-width="0.18">XX02</text>
<text x="717.40" y="845.85" font-size="4.9" textLength="14.40" lengthAdjust="spacingAndGlyphs" fill="#000" stroke="#000" stroke-width="0.18">XX01</text>
<text x="894.60" y="661.95" font-size="4.9" textLength="14.40" lengthAdjust="spacingAndGlyphs" fill="#000" stroke="#000" stroke-width="0.18">XX05</text>
<text x="923.20" y="661.95" font-size="4.9" textLength="14.40" lengthAdjust="spacingAndGlyphs" fill="#000" stroke="#000" stroke-width="0.18">XX06</text>
<text x="892.60" y="722.75" font-size="4.9" textLength="14.40" lengthAdjust="spacingAndGlyphs" fill="#000" stroke="#000" stroke-width="0.18">XX04</text>
<text x="892.60" y="745.75" font-size="4.9" textLength="14.40" lengthAdjust="spacingAndGlyphs" fill="#000" stroke="#000" stroke-width="0.18">XX03</text>
<text x="892.60" y="767.65" font-size="4.9" textLength="14.40" lengthAdjust="spacingAndGlyphs" fill="#000" stroke="#000" stroke-width="0.18">XX02</text>
<text x="892.60" y="790.65" font-size="4.9" textLength="14.40" lengthAdjust="spacingAndGlyphs" fill="#000" stroke="#000" stroke-width="0.18">XX01</text>
<text x="925.70" y="722.75" font-size="4.9" textLength="14.40" lengthAdjust="spacingAndGlyphs" fill="#000" stroke="#000" stroke-width="0.18">XX07</text>
<text x="925.70" y="745.75" font-size="4.9" textLength="14.40" lengthAdjust="spacingAndGlyphs" fill="#000" stroke="#000" stroke-width="0.18">XX08</text>
<text x="925.70" y="773.65" font-size="4.9" textLength="14.40" lengthAdjust="spacingAndGlyphs" fill="#000" stroke="#000" stroke-width="0.18">XX09</text>
<text x="925.70" y="810.85" font-size="4.9" textLength="14.40" lengthAdjust="spacingAndGlyphs" fill="#000" stroke="#000" stroke-width="0.18">XX10</text>
<text x="831.70" y="812.35" font-size="4.9" textLength="14.40" lengthAdjust="spacingAndGlyphs" fill="#000" stroke="#000" stroke-width="0.18">XX14</text>
<text x="864.60" y="812.35" font-size="4.9" textLength="14.40" lengthAdjust="spacingAndGlyphs" fill="#000" stroke="#000" stroke-width="0.18">XX15</text>
<text x="831.50" y="843.65" font-size="4.9" textLength="14.40" lengthAdjust="spacingAndGlyphs" fill="#000" stroke="#000" stroke-width="0.18">XX13</text>
<text x="877.60" y="843.65" font-size="4.9" textLength="14.40" lengthAdjust="spacingAndGlyphs" fill="#000" stroke="#000" stroke-width="0.18">XX12</text>
<text x="916.80" y="843.65" font-size="4.9" textLength="14.40" lengthAdjust="spacingAndGlyphs" fill="#000" stroke="#000" stroke-width="0.18">XX11</text>
<g transform="translate(593.00 989.80)" fill="none" stroke="#2b2728" stroke-width="0.75" stroke-linecap="round" stroke-linejoin="round"><path d="M8.2 9.9A5.3 5.3 0 0 1 18.8 9.9"/><path d="M6.70 9.90L5.30 9.90M7.18 6.25L5.79 5.45M9.85 3.58L9.05 2.19M13.50 2.60L13.50 1.00M17.15 3.58L17.95 2.19M19.82 6.25L21.21 5.45M20.30 9.90L21.70 9.90" stroke-width="0.6"/><path d="M0.4 11.2Q7 10.8 14 11.6T28.2 11.4" stroke-width="0.9"/><path d="M1.8 12.7Q8 12.9 14 13.1T26.5 12.6" stroke-width="0.6"/><path d="M0.3 17Q1.2 14.6 4.6 14.4Q8 14.4 11 16.6Q14.4 19.2 18.4 19.2Q21 19.2 23 18.2Q26 17.2 28.6 18.8" stroke-width="0.8"/><path d="M16.5 16.3H19.2M19.9 14.6H26.5" stroke-width="0.8"/></g>
<text x="561.00" y="1025.10" font-size="8.4" textLength="90.00" lengthAdjust="spacingAndGlyphs" fill="#1d1a1b">SEAWATER LAGOON</text>
<g transform="translate(195.00 1083.90)" fill="none" stroke="#2b2728" stroke-width="0.75" stroke-linecap="round" stroke-linejoin="round"><path d="M4.3 19.9A4.1 4.1 0 0 1 2.4 12.2A3.2 3.2 0 0 1 3.7 6.3C1.5 7 -0.6 5.4 0.3 3.2C1 1.2 2.8 0 4.6 0.1C6.6 0.3 8.2 1.6 9.1 3.3C11.4 4.4 13 6.6 12.8 9C12.8 10.2 12.6 11.2 12.3 12A4.2 4.2 0 0 1 11 19.9M3.7 6.3C4.8 5.6 6 4.6 6.8 3.4"/><path d="M6.6 23.4V19.6M8.4 23.4V19.6M7.5 19.6V9.6M5.2 10.6L7.5 13.2L9.9 10.6M4.8 15L7.5 17.6L10.3 15" stroke-width="0.7"/><path d="M2.2 23.7H15.4"/><path d="M15.4 23.2C17.4 21.4 19.4 21.6 21.6 22.6C24 23.8 25.6 24.6 28 23.6C30 22.8 31 23.4 32.4 23.2C33.6 23 34.4 22.6 35 22.2M16.6 22.6C19 23.4 21 24.6 23.4 23.4C25.4 22.2 27.4 21.4 29.4 22.6C30.4 23.2 31.4 24 32.4 23.8" stroke-width="0.55"/></g>
<text x="198.65" y="1119.90" font-size="8.4" textLength="32.80" lengthAdjust="spacingAndGlyphs" fill="#1d1a1b">GREEN,</text>
<text x="184.50" y="1130.90" font-size="8.4" textLength="58.10" lengthAdjust="spacingAndGlyphs" fill="#1d1a1b">WATER VIEW</text>
<g transform="translate(389.80 1123.80)" fill="none" stroke="#2b2728" stroke-width="0.75" stroke-linecap="round" stroke-linejoin="round"><circle cx="11.25" cy="2.2" r="1.7"/><path d="M10.6 4.2C10.2 7 9.9 10 9.6 12.8M12.2 4.3C14 5.6 14.8 8 14 10C13.6 11 13 11.8 12.2 12.4M11.4 6C11 8 10.2 9.8 9.2 11.2" stroke-width="0.75"/><path d="M9.9 12.8C9.8 16.6 9.2 20.4 8.4 23.9H10.2M11.6 12.8C13 16.4 15 19.8 17.4 22.6L18.9 22.7" stroke-width="1.15"/><path d="M2.9 14.5C1.6 13.2 1.6 11.2 2.4 9.8C3.2 8.2 4.8 7.4 6.5 7.6C7.4 7.8 8 8.8 8 10.2M5.8 10.2L6.3 16.3M4.4 11.6L5.9 13" stroke-width="0.7"/><path d="M0.4 20.7H7.4M11.4 20.7H15.4M19.4 20.7H24.5L14.6 14.8M0.4 20.7L5.8 16.3" stroke-width="0.75"/></g>
<text x="369.00" y="1161.00" font-size="8.4" textLength="66.80" lengthAdjust="spacingAndGlyphs" fill="#1d1a1b">AMENITY VIEW</text>
<g transform="translate(590.20 1129.10)" fill="none" stroke="#2b2728" stroke-width="0.75" stroke-linecap="round" stroke-linejoin="round"><circle cx="22.2" cy="5.8" r="3.6"/><circle cx="30.2" cy="4.2" r="4"/><path d="M22.2 14.6V5.4M20.8 7.6L22.2 9L23.6 7.6M30.2 14.6V4M28.6 6.4L30.2 8L31.8 6.4M26.6 8.6V11.4M26 10.8L26.6 11.6L27.2 10.8M19 8.8V10.8M32.6 8.6V11" stroke-width="0.65"/><path d="M0.3 14.6H33.8" stroke-width="0.8"/><path d="M4.4 14.6C6.6 13.8 7.4 12 8.4 10.2C9.4 8.2 11.6 7.6 13.2 8.6M10.4 11.2A3 3 0 1 1 16.4 11.2A3 3 0 1 1 10.4 11.2M11 9C12.6 10 13.6 12 13.2 14.6M9 12C10.4 13.4 12 14.4 13.8 14.6" stroke-width="0.65"/><path d="M3.8 17.1H17" stroke-width="0.7"/></g>
<text x="559.70" y="1160.90" font-size="8.4" textLength="95.30" lengthAdjust="spacingAndGlyphs" fill="#1d1a1b">AMENITY-POOL VIEW</text>
<g transform="translate(800.50 1123.80)" fill="none" stroke="#2b2728" stroke-width="0.75" stroke-linecap="round" stroke-linejoin="round"><circle cx="11.25" cy="2.2" r="1.7"/><path d="M10.6 4.2C10.2 7 9.9 10 9.6 12.8M12.2 4.3C14 5.6 14.8 8 14 10C13.6 11 13 11.8 12.2 12.4M11.4 6C11 8 10.2 9.8 9.2 11.2" stroke-width="0.75"/><path d="M9.9 12.8C9.8 16.6 9.2 20.4 8.4 23.9H10.2M11.6 12.8C13 16.4 15 19.8 17.4 22.6L18.9 22.7" stroke-width="1.15"/><path d="M2.9 14.5C1.6 13.2 1.6 11.2 2.4 9.8C3.2 8.2 4.8 7.4 6.5 7.6C7.4 7.8 8 8.8 8 10.2M5.8 10.2L6.3 16.3M4.4 11.6L5.9 13" stroke-width="0.7"/><path d="M0.4 20.7H7.4M11.4 20.7H15.4M19.4 20.7H24.5L14.6 14.8M0.4 20.7L5.8 16.3" stroke-width="0.75"/></g>
<text x="780.50" y="1161.00" font-size="8.4" textLength="66.10" lengthAdjust="spacingAndGlyphs" fill="#1d1a1b">AMENITY VIEW</text>
<g transform="translate(992.10 1084.10)" fill="none" stroke="#2b2728" stroke-width="0.75" stroke-linecap="round" stroke-linejoin="round"><path d="M4.3 19.9A4.1 4.1 0 0 1 2.4 12.2A3.2 3.2 0 0 1 3.7 6.3C1.5 7 -0.6 5.4 0.3 3.2C1 1.2 2.8 0 4.6 0.1C6.6 0.3 8.2 1.6 9.1 3.3C11.4 4.4 13 6.6 12.8 9C12.8 10.2 12.6 11.2 12.3 12A4.2 4.2 0 0 1 11 19.9M3.7 6.3C4.8 5.6 6 4.6 6.8 3.4"/><path d="M6.6 23.4V19.6M8.4 23.4V19.6M7.5 19.6V9.6M5.2 10.6L7.5 13.2L9.9 10.6M4.8 15L7.5 17.6L10.3 15" stroke-width="0.7"/><path d="M2.2 23.7H15.4"/><path d="M15.4 23.2C17.4 21.4 19.4 21.6 21.6 22.6C24 23.8 25.6 24.6 28 23.6C30 22.8 31 23.4 32.4 23.2C33.6 23 34.4 22.6 35 22.2M16.6 22.6C19 23.4 21 24.6 23.4 23.4C25.4 22.2 27.4 21.4 29.4 22.6C30.4 23.2 31.4 24 32.4 23.8" stroke-width="0.55"/></g>
<text x="982.40" y="1120.00" font-size="8.4" textLength="57.60" lengthAdjust="spacingAndGlyphs" fill="#1d1a1b">GREEN VIEW,</text>
<text x="966.50" y="1130.90" font-size="8.4" textLength="89.50" lengthAdjust="spacingAndGlyphs" fill="#1d1a1b">SEAWATER LAGOON</text>
<g transform="translate(590.70 1292.90)" fill="none" stroke="#2b2728" stroke-width="0.75" stroke-linecap="round" stroke-linejoin="round"><path d="M4.3 19.9A4.1 4.1 0 0 1 2.4 12.2A3.2 3.2 0 0 1 3.7 6.3C1.5 7 -0.6 5.4 0.3 3.2C1 1.2 2.8 0 4.6 0.1C6.6 0.3 8.2 1.6 9.1 3.3C11.4 4.4 13 6.6 12.8 9C12.8 10.2 12.6 11.2 12.3 12A4.2 4.2 0 0 1 11 19.9M3.7 6.3C4.8 5.6 6 4.6 6.8 3.4"/><path d="M6.6 23.4V19.6M8.4 23.4V19.6M7.5 19.6V9.6M5.2 10.6L7.5 13.2L9.9 10.6M4.8 15L7.5 17.6L10.3 15" stroke-width="0.7"/><path d="M2.2 23.7H15.4"/><path d="M15.4 23.2C17.4 21.4 19.4 21.6 21.6 22.6C24 23.8 25.6 24.6 28 23.6C30 22.8 31 23.4 32.4 23.2C33.6 23 34.4 22.6 35 22.2M16.6 22.6C19 23.4 21 24.6 23.4 23.4C25.4 22.2 27.4 21.4 29.4 22.6C30.4 23.2 31.4 24 32.4 23.8" stroke-width="0.55"/></g>
<text x="564.50" y="1328.90" font-size="8.4" textLength="86.70" lengthAdjust="spacingAndGlyphs" fill="#1d1a1b">PARK, WATER VIEW</text>
<text x="576.60" y="1355.00" font-size="14" textLength="61.70" lengthAdjust="spacingAndGlyphs" fill="#1a1a1a">LEVEL 07</text>
<text x="280.20" y="1038.80" font-size="8.0" textLength="42.10" lengthAdjust="spacingAndGlyphs" fill="#1d1a1b">TOWER A</text>
<text x="487.90" y="1044.70" font-size="8.0" textLength="41.40" lengthAdjust="spacingAndGlyphs" fill="#1d1a1b">TOWER B</text>
<text x="685.30" y="1044.70" font-size="8.0" textLength="41.80" lengthAdjust="spacingAndGlyphs" fill="#1d1a1b">TOWER C</text>
<text x="892.20" y="1038.80" font-size="8.0" textLength="42.10" lengthAdjust="spacingAndGlyphs" fill="#1d1a1b">TOWER D</text>
<g transform="translate(272.10 1055.30) scale(0.9972)"><path d="M0 186.2V2.4Q0 0 2.4 0H25.6V6.1H30.8V0H54.2Q56.6 0 56.6 2.4V152.5Q56.6 161.5 66.5 161.5H124Q126.4 161.5 126.4 163.9V185.6H54.2V186.2Z" fill="#fff" stroke="none" stroke-width="0" /><path d="M0 191.7H126.4V214.5Q126.4 216.9 124 216.9H2.4Q0 216.9 0 214.5Z" fill="#fff" stroke="#231f20" stroke-width="1.05" /><rect x="77.40" y="191.70" width="10.30" height="25.20" fill="#d4ecf9" stroke="#231f20" stroke-width="1.05"/><path d="M42.30 191.70L42.30 216.90" stroke="#231f20" stroke-width="1.05" fill="none"/><rect x="14.80" y="50.10" width="9.40" height="10.70" fill="#dad7ea" stroke="#231f20" stroke-width="1.05"/><rect x="14.80" y="60.80" width="9.40" height="5.40" fill="#cbc9c9" stroke="#231f20" stroke-width="1.05"/><rect x="14.80" y="66.20" width="9.40" height="5.70" fill="#cbc9c9" stroke="#231f20" stroke-width="1.05"/><rect x="31.40" y="50.10" width="10.10" height="21.80" fill="#d4ecf9" stroke="#231f20" stroke-width="1.05"/><rect x="31.40" y="163.10" width="6.10" height="9.00" fill="#a9a7a7" stroke="#231f20" stroke-width="1.05"/><rect x="37.50" y="163.10" width="6.90" height="9.00" fill="#cbc9c9" stroke="#231f20" stroke-width="1.05"/><rect x="44.40" y="163.10" width="9.80" height="12.70" fill="#cbc9c9" stroke="#231f20" stroke-width="1.05"/><path d="M24.2 186.4V33.9Q24.2 31.7 26.4 31.7H29.2Q31.4 31.7 31.4 33.9V172.1H44.4V175.8H31.4V183.9H54.2V186.4H116.1V191.7H14.8V186.4Z" fill="#d4ecf9" stroke="#231f20" stroke-width="1.05" /><rect x="31.90" y="176.40" width="9.70" height="7.20" fill="#dad7ea" stroke="#231f20" stroke-width="0.6"/><rect x="42.20" y="176.40" width="11.70" height="7.20" fill="#dad7ea" stroke="#231f20" stroke-width="0.6"/><path d="M0 186.2V2.4Q0 0 2.4 0H25.6V6.1H30.8V0H54.2Q56.6 0 56.6 2.4V152.5Q56.6 161.5 66.5 161.5H124Q126.4 161.5 126.4 163.9V185.6" fill="none" stroke="#231f20" stroke-width="1.05" /><path d="M0.00 186.20L24.20 186.20" stroke="#231f20" stroke-width="1.05" fill="none"/><path d="M54.20 185.80L126.40 185.80" stroke="#231f20" stroke-width="1.05" fill="none"/><path d="M54.20 163.10L54.20 186.00" stroke="#231f20" stroke-width="1.05" fill="none"/><path d="M59.40 158.80L54.20 163.10" stroke="#231f20" stroke-width="1.05" fill="none"/><path d="M87.70 161.50L87.70 185.80" stroke="#231f20" stroke-width="1.05" fill="none"/><path d="M28.20 6.10L28.20 31.70" stroke="#231f20" stroke-width="0.7" fill="none"/><path d="M0.00 50.10L14.80 50.10" stroke="#231f20" stroke-width="1.05" fill="none"/><path d="M0.00 94.90L24.20 94.90" stroke="#231f20" stroke-width="1.05" fill="none"/><path d="M0.00 117.70L24.20 117.70" stroke="#231f20" stroke-width="1.05" fill="none"/><path d="M0.00 140.90L24.20 140.90" stroke="#231f20" stroke-width="1.05" fill="none"/><path d="M0.00 163.10L24.20 163.10" stroke="#231f20" stroke-width="1.05" fill="none"/><path d="M14.80 50.10L24.20 50.10" stroke="#231f20" stroke-width="1.05" fill="none"/><path d="M31.40 50.10L56.60 50.10" stroke="#231f20" stroke-width="1.05" fill="none"/><path d="M31.40 94.90L56.60 94.90" stroke="#231f20" stroke-width="1.05" fill="none"/><path d="M31.40 117.70L56.60 117.70" stroke="#231f20" stroke-width="1.05" fill="none"/><path d="M31.40 140.90L56.60 140.90" stroke="#231f20" stroke-width="1.05" fill="none"/><path d="M31.40 163.10L54.20 163.10" stroke="#231f20" stroke-width="1.05" fill="none"/><path d="M24.20 36.20L20.60 36.20A3.6 3.6 0 0 1 24.20 32.60" fill="#fff" stroke="#231f20" stroke-width="1.1" /><path d="M31.40 36.20L35.00 36.20A3.6 3.6 0 0 0 31.40 32.60" fill="#fff" stroke="#231f20" stroke-width="1.1" /><path d="M24.20 84.30L20.50 84.30A3.7 3.7 0 0 1 24.20 80.60" fill="#fff" stroke="#231f20" stroke-width="1.1" /><path d="M24.20 106.80L20.50 106.80A3.7 3.7 0 0 0 24.20 110.50" fill="#fff" stroke="#231f20" stroke-width="1.1" /><path d="M24.20 128.60L20.50 128.60A3.7 3.7 0 0 1 24.20 124.90" fill="#fff" stroke="#231f20" stroke-width="1.1" /><path d="M24.20 153.40L20.50 153.40A3.7 3.7 0 0 0 24.20 157.10" fill="#fff" stroke="#231f20" stroke-width="1.1" /><path d="M24.20 174.60L20.50 174.60A3.7 3.7 0 0 1 24.20 170.90" fill="#fff" stroke="#231f20" stroke-width="1.1" /><path d="M31.40 84.30L35.10 84.30A3.7 3.7 0 0 0 31.40 80.60" fill="#fff" stroke="#231f20" stroke-width="1.1" /><path d="M31.40 106.80L35.10 106.80A3.7 3.7 0 0 1 31.40 110.50" fill="#fff" stroke="#231f20" stroke-width="1.1" /><path d="M31.40 128.60L35.10 128.60A3.7 3.7 0 0 0 31.40 124.90" fill="#fff" stroke="#231f20" stroke-width="1.1" /><path d="M31.40 151.60L35.10 151.60A3.7 3.7 0 0 0 31.40 147.90" fill="#fff" stroke="#231f20" stroke-width="1.1" /><path d="M78.00 186.00L78.00 182.10A3.9 3.9 0 0 0 74.10 186.00" fill="#fff" stroke="#231f20" stroke-width="1.1" /><path d="M110.30 186.00L110.30 182.20A3.8 3.8 0 0 1 114.10 186.00" fill="#fff" stroke="#231f20" stroke-width="1.1" /><path d="M16.20 191.70L16.20 195.60A3.9 3.9 0 0 0 20.10 191.70" fill="#fff" stroke="#231f20" stroke-width="1.1" /><path d="M65.90 191.70L65.90 195.60A3.9 3.9 0 0 1 62.00 191.70" fill="#fff" stroke="#231f20" stroke-width="1.1" /><path d="M110.30 191.70L110.30 195.50A3.8 3.8 0 0 0 114.10 191.70" fill="#fff" stroke="#231f20" stroke-width="1.1" /></g>
<g transform="translate(480.00 1062.50) scale(0.993)"><path d="M0 2.4Q0 0 2.4 0H54.2Q56.6 0 56.6 2.4V212.6Q56.6 216.2 53 216.2H43.6Q41 216.2 40.6 213.2Q40.2 210.2 37.4 210.2H30.8V203.2H25.7V210.2H19.2Q16.4 210.2 16 213.2Q15.6 216.2 13 216.2H3.6Q0 216.2 0 212.6Z" fill="#fff" stroke="none" stroke-width="0" /><rect x="14.80" y="49.80" width="10.00" height="23.40" fill="#d4ecf9" stroke="#231f20" stroke-width="1.05"/><rect x="31.80" y="49.80" width="10.90" height="10.30" fill="#cbc9c9" stroke="#231f20" stroke-width="1.05"/><rect x="31.80" y="60.10" width="10.90" height="6.70" fill="#cbc9c9" stroke="#231f20" stroke-width="1.05"/><rect x="31.80" y="66.80" width="10.90" height="6.40" fill="#cbc9c9" stroke="#231f20" stroke-width="1.05"/><rect x="14.80" y="163.60" width="7.80" height="11.50" fill="#dad7ea" stroke="#231f20" stroke-width="1.05"/><rect x="14.80" y="175.10" width="7.80" height="10.30" fill="#dad7ea" stroke="#231f20" stroke-width="1.05"/><rect x="31.80" y="163.60" width="7.50" height="5.20" fill="#a9a7a7" stroke="#231f20" stroke-width="1.05"/><rect x="39.30" y="163.60" width="6.30" height="5.20" fill="#cbc9c9" stroke="#231f20" stroke-width="1.05"/><rect x="45.60" y="163.60" width="11.00" height="11.50" fill="#dad7ea" stroke="#231f20" stroke-width="1.05"/><rect x="31.80" y="176.20" width="24.80" height="9.20" fill="#d4ecf9" stroke="#231f20" stroke-width="1.05"/><path d="M24.8 43.5H31.8V168.8H45.6V175.1H31.8V185.4H31.2V203.2H25.2V185.4H22.9V163.6H24.8Z" fill="#d4ecf9" stroke="#231f20" stroke-width="1.05" /><path d="M0 2.4Q0 0 2.4 0H54.2Q56.6 0 56.6 2.4V212.6Q56.6 216.2 53 216.2H43.6Q41 216.2 40.6 213.2Q40.2 210.2 37.4 210.2H30.8V203.2M25.7 203.2V210.2H19.2Q16.4 210.2 16 213.2Q15.6 216.2 13 216.2H3.6Q0 216.2 0 212.6V2.4" fill="none" stroke="#231f20" stroke-width="1.05" /><path d="M0.00 49.80L14.80 49.80" stroke="#231f20" stroke-width="1.05" fill="none"/><path d="M42.70 49.80L56.60 49.80" stroke="#231f20" stroke-width="1.05" fill="none"/><path d="M0.00 94.60L24.80 94.60" stroke="#231f20" stroke-width="1.05" fill="none"/><path d="M31.80 94.60L56.60 94.60" stroke="#231f20" stroke-width="1.05" fill="none"/><path d="M0.00 117.60L24.80 117.60" stroke="#231f20" stroke-width="1.05" fill="none"/><path d="M31.80 117.60L56.60 117.60" stroke="#231f20" stroke-width="1.05" fill="none"/><path d="M0.00 140.60L24.80 140.60" stroke="#231f20" stroke-width="1.05" fill="none"/><path d="M31.80 140.60L56.60 140.60" stroke="#231f20" stroke-width="1.05" fill="none"/><path d="M14.80 49.80L24.80 49.80" stroke="#231f20" stroke-width="1.05" fill="none"/><path d="M31.80 49.80L42.70 49.80" stroke="#231f20" stroke-width="1.05" fill="none"/><path d="M14.80 163.60L22.90 163.60" stroke="#231f20" stroke-width="1.05" fill="none"/><path d="M0.00 185.40L25.20 185.40" stroke="#231f20" stroke-width="1.05" fill="none"/><path d="M31.20 185.40L56.60 185.40" stroke="#231f20" stroke-width="1.05" fill="none"/><path d="M24.80 83.70L21.10 83.70A3.7 3.7 0 0 1 24.80 80.00" fill="#fff" stroke="#231f20" stroke-width="1.1" /><path d="M31.80 83.70L35.50 83.70A3.7 3.7 0 0 0 31.80 80.00" fill="#fff" stroke="#231f20" stroke-width="1.1" /><path d="M24.80 106.80L21.10 106.80A3.7 3.7 0 0 0 24.80 110.50" fill="#fff" stroke="#231f20" stroke-width="1.1" /><path d="M31.80 106.80L35.50 106.80A3.7 3.7 0 0 1 31.80 110.50" fill="#fff" stroke="#231f20" stroke-width="1.1" /><path d="M24.80 127.90L21.10 127.90A3.7 3.7 0 0 1 24.80 124.20" fill="#fff" stroke="#231f20" stroke-width="1.1" /><path d="M31.80 127.90L35.50 127.90A3.7 3.7 0 0 0 31.80 124.20" fill="#fff" stroke="#231f20" stroke-width="1.1" /><path d="M24.80 151.50L21.10 151.50A3.7 3.7 0 0 0 24.80 155.20" fill="#fff" stroke="#231f20" stroke-width="1.1" /><path d="M31.80 151.50L35.50 151.50A3.7 3.7 0 0 1 31.80 155.20" fill="#fff" stroke="#231f20" stroke-width="1.1" /><path d="M25.20 198.10L21.50 198.10A3.7 3.7 0 0 0 25.20 201.80" fill="#fff" stroke="#231f20" stroke-width="1.1" /><path d="M31.20 198.10L34.90 198.10A3.7 3.7 0 0 1 31.20 201.80" fill="#fff" stroke="#231f20" stroke-width="1.1" /></g>
<g transform="translate(735.20 1062.50) scale(-0.993 0.993)"><path d="M0 2.4Q0 0 2.4 0H54.2Q56.6 0 56.6 2.4V212.6Q56.6 216.2 53 216.2H43.6Q41 216.2 40.6 213.2Q40.2 210.2 37.4 210.2H30.8V203.2H25.7V210.2H19.2Q16.4 210.2 16 213.2Q15.6 216.2 13 216.2H3.6Q0 216.2 0 212.6Z" fill="#fff" stroke="none" stroke-width="0" /><rect x="14.80" y="49.80" width="10.00" height="23.40" fill="#d4ecf9" stroke="#231f20" stroke-width="1.05"/><rect x="31.80" y="49.80" width="10.90" height="10.30" fill="#cbc9c9" stroke="#231f20" stroke-width="1.05"/><rect x="31.80" y="60.10" width="10.90" height="6.70" fill="#cbc9c9" stroke="#231f20" stroke-width="1.05"/><rect x="31.80" y="66.80" width="10.90" height="6.40" fill="#cbc9c9" stroke="#231f20" stroke-width="1.05"/><rect x="14.80" y="163.60" width="7.80" height="11.50" fill="#dad7ea" stroke="#231f20" stroke-width="1.05"/><rect x="14.80" y="175.10" width="7.80" height="10.30" fill="#dad7ea" stroke="#231f20" stroke-width="1.05"/><rect x="31.80" y="163.60" width="7.50" height="5.20" fill="#a9a7a7" stroke="#231f20" stroke-width="1.05"/><rect x="39.30" y="163.60" width="6.30" height="5.20" fill="#cbc9c9" stroke="#231f20" stroke-width="1.05"/><rect x="45.60" y="163.60" width="11.00" height="11.50" fill="#dad7ea" stroke="#231f20" stroke-width="1.05"/><rect x="31.80" y="176.20" width="24.80" height="9.20" fill="#d4ecf9" stroke="#231f20" stroke-width="1.05"/><path d="M24.8 43.5H31.8V168.8H45.6V175.1H31.8V185.4H31.2V203.2H25.2V185.4H22.9V163.6H24.8Z" fill="#d4ecf9" stroke="#231f20" stroke-width="1.05" /><path d="M0 2.4Q0 0 2.4 0H54.2Q56.6 0 56.6 2.4V212.6Q56.6 216.2 53 216.2H43.6Q41 216.2 40.6 213.2Q40.2 210.2 37.4 210.2H30.8V203.2M25.7 203.2V210.2H19.2Q16.4 210.2 16 213.2Q15.6 216.2 13 216.2H3.6Q0 216.2 0 212.6V2.4" fill="none" stroke="#231f20" stroke-width="1.05" /><path d="M0.00 49.80L14.80 49.80" stroke="#231f20" stroke-width="1.05" fill="none"/><path d="M42.70 49.80L56.60 49.80" stroke="#231f20" stroke-width="1.05" fill="none"/><path d="M0.00 94.60L24.80 94.60" stroke="#231f20" stroke-width="1.05" fill="none"/><path d="M31.80 94.60L56.60 94.60" stroke="#231f20" stroke-width="1.05" fill="none"/><path d="M0.00 117.60L24.80 117.60" stroke="#231f20" stroke-width="1.05" fill="none"/><path d="M31.80 117.60L56.60 117.60" stroke="#231f20" stroke-width="1.05" fill="none"/><path d="M0.00 140.60L24.80 140.60" stroke="#231f20" stroke-width="1.05" fill="none"/><path d="M31.80 140.60L56.60 140.60" stroke="#231f20" stroke-width="1.05" fill="none"/><path d="M14.80 49.80L24.80 49.80" stroke="#231f20" stroke-width="1.05" fill="none"/><path d="M31.80 49.80L42.70 49.80" stroke="#231f20" stroke-width="1.05" fill="none"/><path d="M14.80 163.60L22.90 163.60" stroke="#231f20" stroke-width="1.05" fill="none"/><path d="M0.00 185.40L25.20 185.40" stroke="#231f20" stroke-width="1.05" fill="none"/><path d="M31.20 185.40L56.60 185.40" stroke="#231f20" stroke-width="1.05" fill="none"/><path d="M24.80 83.70L21.10 83.70A3.7 3.7 0 0 1 24.80 80.00" fill="#fff" stroke="#231f20" stroke-width="1.1" /><path d="M31.80 83.70L35.50 83.70A3.7 3.7 0 0 0 31.80 80.00" fill="#fff" stroke="#231f20" stroke-width="1.1" /><path d="M24.80 106.80L21.10 106.80A3.7 3.7 0 0 0 24.80 110.50" fill="#fff" stroke="#231f20" stroke-width="1.1" /><path d="M31.80 106.80L35.50 106.80A3.7 3.7 0 0 1 31.80 110.50" fill="#fff" stroke="#231f20" stroke-width="1.1" /><path d="M24.80 127.90L21.10 127.90A3.7 3.7 0 0 1 24.80 124.20" fill="#fff" stroke="#231f20" stroke-width="1.1" /><path d="M31.80 127.90L35.50 127.90A3.7 3.7 0 0 0 31.80 124.20" fill="#fff" stroke="#231f20" stroke-width="1.1" /><path d="M24.80 151.50L21.10 151.50A3.7 3.7 0 0 0 24.80 155.20" fill="#fff" stroke="#231f20" stroke-width="1.1" /><path d="M31.80 151.50L35.50 151.50A3.7 3.7 0 0 1 31.80 155.20" fill="#fff" stroke="#231f20" stroke-width="1.1" /><path d="M25.20 198.10L21.50 198.10A3.7 3.7 0 0 0 25.20 201.80" fill="#fff" stroke="#231f20" stroke-width="1.1" /><path d="M31.20 198.10L34.90 198.10A3.7 3.7 0 0 1 31.20 201.80" fill="#fff" stroke="#231f20" stroke-width="1.1" /></g>
<g transform="translate(942.64 1055.30) scale(-0.9948 0.9948)"><path d="M0 186.2V2.4Q0 0 2.4 0H25.6V6.1H30.8V0H54.2Q56.6 0 56.6 2.4V152.5Q56.6 161.5 66.5 161.5H124Q126.4 161.5 126.4 163.9V185.6H54.2V186.2Z" fill="#fff" stroke="none" stroke-width="0" /><path d="M0 191.7H126.4V214.5Q126.4 216.9 124 216.9H2.4Q0 216.9 0 214.5Z" fill="#fff" stroke="#231f20" stroke-width="1.05" /><rect x="77.40" y="191.70" width="10.30" height="25.20" fill="#d4ecf9" stroke="#231f20" stroke-width="1.05"/><path d="M42.30 191.70L42.30 216.90" stroke="#231f20" stroke-width="1.05" fill="none"/><path d="M0 191.7H42.3V216.9H2.4Q0 216.9 0 214.5Z" fill="#6aa9d9" stroke="#231f20" stroke-width="1.05" /><rect x="14.80" y="50.10" width="9.40" height="10.70" fill="#dad7ea" stroke="#231f20" stroke-width="1.05"/><rect x="14.80" y="60.80" width="9.40" height="5.40" fill="#cbc9c9" stroke="#231f20" stroke-width="1.05"/><rect x="14.80" y="66.20" width="9.40" height="5.70" fill="#cbc9c9" stroke="#231f20" stroke-width="1.05"/><rect x="31.40" y="50.10" width="10.10" height="21.80" fill="#d4ecf9" stroke="#231f20" stroke-width="1.05"/><rect x="31.40" y="163.10" width="6.10" height="9.00" fill="#a9a7a7" stroke="#231f20" stroke-width="1.05"/><rect x="37.50" y="163.10" width="6.90" height="9.00" fill="#cbc9c9" stroke="#231f20" stroke-width="1.05"/><rect x="44.40" y="163.10" width="9.80" height="12.70" fill="#cbc9c9" stroke="#231f20" stroke-width="1.05"/><path d="M24.2 186.4V33.9Q24.2 31.7 26.4 31.7H29.2Q31.4 31.7 31.4 33.9V172.1H44.4V175.8H31.4V183.9H54.2V186.4H116.1V191.7H14.8V186.4Z" fill="#d4ecf9" stroke="#231f20" stroke-width="1.05" /><rect x="31.90" y="176.40" width="9.70" height="7.20" fill="#dad7ea" stroke="#231f20" stroke-width="0.6"/><rect x="42.20" y="176.40" width="11.70" height="7.20" fill="#dad7ea" stroke="#231f20" stroke-width="0.6"/><path d="M0 186.2V2.4Q0 0 2.4 0H25.6V6.1H30.8V0H54.2Q56.6 0 56.6 2.4V152.5Q56.6 161.5 66.5 161.5H124Q126.4 161.5 126.4 163.9V185.6" fill="none" stroke="#231f20" stroke-width="1.05" /><path d="M0.00 186.20L24.20 186.20" stroke="#231f20" stroke-width="1.05" fill="none"/><path d="M54.20 185.80L126.40 185.80" stroke="#231f20" stroke-width="1.05" fill="none"/><path d="M54.20 163.10L54.20 186.00" stroke="#231f20" stroke-width="1.05" fill="none"/><path d="M59.40 158.80L54.20 163.10" stroke="#231f20" stroke-width="1.05" fill="none"/><path d="M87.70 161.50L87.70 185.80" stroke="#231f20" stroke-width="1.05" fill="none"/><path d="M28.20 6.10L28.20 31.70" stroke="#231f20" stroke-width="0.7" fill="none"/><path d="M0.00 50.10L14.80 50.10" stroke="#231f20" stroke-width="1.05" fill="none"/><path d="M0.00 94.90L24.20 94.90" stroke="#231f20" stroke-width="1.05" fill="none"/><path d="M0.00 117.70L24.20 117.70" stroke="#231f20" stroke-width="1.05" fill="none"/><path d="M0.00 152.20L24.20 152.20" stroke="#231f20" stroke-width="1.05" fill="none"/><path d="M14.80 50.10L24.20 50.10" stroke="#231f20" stroke-width="1.05" fill="none"/><path d="M31.40 50.10L56.60 50.10" stroke="#231f20" stroke-width="1.05" fill="none"/><path d="M31.40 94.90L56.60 94.90" stroke="#231f20" stroke-width="1.05" fill="none"/><path d="M31.40 117.70L56.60 117.70" stroke="#231f20" stroke-width="1.05" fill="none"/><path d="M31.40 140.90L56.60 140.90" stroke="#231f20" stroke-width="1.05" fill="none"/><path d="M31.40 163.10L54.20 163.10" stroke="#231f20" stroke-width="1.05" fill="none"/><path d="M24.20 36.20L20.60 36.20A3.6 3.6 0 0 1 24.20 32.60" fill="#fff" stroke="#231f20" stroke-width="1.1" /><path d="M31.40 36.20L35.00 36.20A3.6 3.6 0 0 0 31.40 32.60" fill="#fff" stroke="#231f20" stroke-width="1.1" /><path d="M24.20 84.30L20.50 84.30A3.7 3.7 0 0 1 24.20 80.60" fill="#fff" stroke="#231f20" stroke-width="1.1" /><path d="M24.20 106.80L20.50 106.80A3.7 3.7 0 0 0 24.20 110.50" fill="#fff" stroke="#231f20" stroke-width="1.1" /><path d="M24.20 129.20L20.50 129.20A3.7 3.7 0 0 0 24.20 132.90" fill="#fff" stroke="#231f20" stroke-width="1.1" /><path d="M24.20 175.10L20.50 175.10A3.7 3.7 0 0 1 24.20 171.40" fill="#fff" stroke="#231f20" stroke-width="1.1" /><path d="M31.40 84.30L35.10 84.30A3.7 3.7 0 0 0 31.40 80.60" fill="#fff" stroke="#231f20" stroke-width="1.1" /><path d="M31.40 106.80L35.10 106.80A3.7 3.7 0 0 1 31.40 110.50" fill="#fff" stroke="#231f20" stroke-width="1.1" /><path d="M31.40 128.60L35.10 128.60A3.7 3.7 0 0 0 31.40 124.90" fill="#fff" stroke="#231f20" stroke-width="1.1" /><path d="M31.40 151.60L35.10 151.60A3.7 3.7 0 0 0 31.40 147.90" fill="#fff" stroke="#231f20" stroke-width="1.1" /><path d="M78.00 186.00L78.00 182.10A3.9 3.9 0 0 0 74.10 186.00" fill="#fff" stroke="#231f20" stroke-width="1.1" /><path d="M110.30 186.00L110.30 182.20A3.8 3.8 0 0 1 114.10 186.00" fill="#fff" stroke="#231f20" stroke-width="1.1" /><path d="M16.20 191.70L16.20 195.60A3.9 3.9 0 0 0 20.10 191.70" fill="#6aa9d9" stroke="#231f20" stroke-width="1.1" /><path d="M65.90 191.70L65.90 195.60A3.9 3.9 0 0 1 62.00 191.70" fill="#fff" stroke="#231f20" stroke-width="1.1" /><path d="M110.30 191.70L110.30 195.50A3.8 3.8 0 0 0 114.10 191.70" fill="#fff" stroke="#231f20" stroke-width="1.1" /></g>
<text x="275.80" y="1078.74" font-size="4.9" textLength="14.40" lengthAdjust="spacingAndGlyphs" fill="#000" stroke="#000" stroke-width="0.18">XX11</text>
<text x="309.30" y="1078.74" font-size="4.9" textLength="14.40" lengthAdjust="spacingAndGlyphs" fill="#000" stroke="#000" stroke-width="0.18">XX12</text>
<text x="276.10" y="1140.71" font-size="4.9" textLength="14.40" lengthAdjust="spacingAndGlyphs" fill="#000" stroke="#000" stroke-width="0.18">XX10</text>
<text x="309.30" y="1140.71" font-size="4.9" textLength="14.40" lengthAdjust="spacingAndGlyphs" fill="#000" stroke="#000" stroke-width="0.18">XX13</text>
<text x="276.10" y="1163.60" font-size="4.9" textLength="14.40" lengthAdjust="spacingAndGlyphs" fill="#000" stroke="#000" stroke-width="0.18">XX09</text>
<text x="309.30" y="1163.60" font-size="4.9" textLength="14.40" lengthAdjust="spacingAndGlyphs" fill="#000" stroke="#000" stroke-width="0.18">XX14</text>
<text x="276.10" y="1185.38" font-size="4.9" textLength="14.40" lengthAdjust="spacingAndGlyphs" fill="#000" stroke="#000" stroke-width="0.18">XX08</text>
<text x="309.30" y="1185.38" font-size="4.9" textLength="14.40" lengthAdjust="spacingAndGlyphs" fill="#000" stroke="#000" stroke-width="0.18">XX15</text>
<text x="276.10" y="1208.26" font-size="4.9" textLength="14.40" lengthAdjust="spacingAndGlyphs" fill="#000" stroke="#000" stroke-width="0.18">XX07</text>
<text x="309.30" y="1208.26" font-size="4.9" textLength="14.40" lengthAdjust="spacingAndGlyphs" fill="#000" stroke="#000" stroke-width="0.18">XX16</text>
<text x="276.30" y="1231.14" font-size="4.9" textLength="14.40" lengthAdjust="spacingAndGlyphs" fill="#000" stroke="#000" stroke-width="0.18">XX06</text>
<text x="335.10" y="1228.95" font-size="4.9" textLength="14.40" lengthAdjust="spacingAndGlyphs" fill="#000" stroke="#000" stroke-width="0.18">XX01</text>
<text x="368.30" y="1228.95" font-size="4.9" textLength="14.40" lengthAdjust="spacingAndGlyphs" fill="#000" stroke="#000" stroke-width="0.18">XX02</text>
<text x="284.30" y="1260.99" font-size="4.9" textLength="14.40" lengthAdjust="spacingAndGlyphs" fill="#000" stroke="#000" stroke-width="0.18">XX05</text>
<text x="322.00" y="1260.99" font-size="4.9" textLength="14.40" lengthAdjust="spacingAndGlyphs" fill="#000" stroke="#000" stroke-width="0.18">XX04</text>
<text x="369.90" y="1260.99" font-size="4.9" textLength="14.40" lengthAdjust="spacingAndGlyphs" fill="#000" stroke="#000" stroke-width="0.18">XX03</text>
<text x="484.50" y="1145.59" font-size="4.9" textLength="14.40" lengthAdjust="spacingAndGlyphs" fill="#000" stroke="#000" stroke-width="0.18">XX04</text>
<text x="517.50" y="1145.59" font-size="4.9" textLength="14.40" lengthAdjust="spacingAndGlyphs" fill="#000" stroke="#000" stroke-width="0.18">XX05</text>
<text x="484.50" y="1170.66" font-size="4.9" textLength="14.40" lengthAdjust="spacingAndGlyphs" fill="#000" stroke="#000" stroke-width="0.18">XX03</text>
<text x="517.50" y="1170.66" font-size="4.9" textLength="14.40" lengthAdjust="spacingAndGlyphs" fill="#000" stroke="#000" stroke-width="0.18">XX06</text>
<text x="484.50" y="1192.25" font-size="4.9" textLength="14.40" lengthAdjust="spacingAndGlyphs" fill="#000" stroke="#000" stroke-width="0.18">XX02</text>
<text x="517.50" y="1193.54" font-size="4.9" textLength="14.40" lengthAdjust="spacingAndGlyphs" fill="#000" stroke="#000" stroke-width="0.18">XX07</text>
<text x="484.50" y="1215.23" font-size="4.9" textLength="14.40" lengthAdjust="spacingAndGlyphs" fill="#000" stroke="#000" stroke-width="0.18">XX01</text>
<text x="517.50" y="1215.23" font-size="4.9" textLength="14.40" lengthAdjust="spacingAndGlyphs" fill="#000" stroke="#000" stroke-width="0.18">XX08</text>
<text x="484.50" y="1261.19" font-size="4.9" textLength="14.40" lengthAdjust="spacingAndGlyphs" fill="#000" stroke="#000" stroke-width="0.18">XX10</text>
<text x="517.50" y="1262.98" font-size="4.9" textLength="14.40" lengthAdjust="spacingAndGlyphs" fill="#000" stroke="#000" stroke-width="0.18">XX09</text>
<text x="682.80" y="1145.59" font-size="4.9" textLength="14.40" lengthAdjust="spacingAndGlyphs" fill="#000" stroke="#000" stroke-width="0.18">XX06</text>
<text x="716.10" y="1145.59" font-size="4.9" textLength="14.40" lengthAdjust="spacingAndGlyphs" fill="#000" stroke="#000" stroke-width="0.18">XX07</text>
<text x="682.80" y="1170.66" font-size="4.9" textLength="14.40" lengthAdjust="spacingAndGlyphs" fill="#000" stroke="#000" stroke-width="0.18">XX05</text>
<text x="716.10" y="1170.66" font-size="4.9" textLength="14.40" lengthAdjust="spacingAndGlyphs" fill="#000" stroke="#000" stroke-width="0.18">XX08</text>
<text x="682.80" y="1193.54" font-size="4.9" textLength="14.40" lengthAdjust="spacingAndGlyphs" fill="#000" stroke="#000" stroke-width="0.18">XX04</text>
<text x="716.10" y="1193.54" font-size="4.9" textLength="14.40" lengthAdjust="spacingAndGlyphs" fill="#000" stroke="#000" stroke-width="0.18">XX09</text>
<text x="682.80" y="1215.23" font-size="4.9" textLength="14.40" lengthAdjust="spacingAndGlyphs" fill="#000" stroke="#000" stroke-width="0.18">XX03</text>
<text x="716.10" y="1215.23" font-size="4.9" textLength="14.40" lengthAdjust="spacingAndGlyphs" fill="#000" stroke="#000" stroke-width="0.18">XX10</text>
<text x="682.80" y="1262.18" font-size="4.9" textLength="14.40" lengthAdjust="spacingAndGlyphs" fill="#000" stroke="#000" stroke-width="0.18">XX02</text>
<text x="716.10" y="1262.18" font-size="4.9" textLength="14.40" lengthAdjust="spacingAndGlyphs" fill="#000" stroke="#000" stroke-width="0.18">XX01</text>
<text x="891.30" y="1078.74" font-size="4.9" textLength="14.40" lengthAdjust="spacingAndGlyphs" fill="#000" stroke="#000" stroke-width="0.18">XX05</text>
<text x="924.40" y="1078.74" font-size="4.9" textLength="14.40" lengthAdjust="spacingAndGlyphs" fill="#000" stroke="#000" stroke-width="0.18">XX06</text>
<text x="891.30" y="1140.71" font-size="4.9" textLength="14.40" lengthAdjust="spacingAndGlyphs" fill="#000" stroke="#000" stroke-width="0.18">XX04</text>
<text x="891.30" y="1163.60" font-size="4.9" textLength="14.40" lengthAdjust="spacingAndGlyphs" fill="#000" stroke="#000" stroke-width="0.18">XX03</text>
<text x="891.30" y="1185.38" font-size="4.9" textLength="14.40" lengthAdjust="spacingAndGlyphs" fill="#000" stroke="#000" stroke-width="0.18">XX02</text>
<text x="891.30" y="1208.26" font-size="4.9" textLength="14.40" lengthAdjust="spacingAndGlyphs" fill="#000" stroke="#000" stroke-width="0.18">XX01</text>
<text x="924.40" y="1140.71" font-size="4.9" textLength="14.40" lengthAdjust="spacingAndGlyphs" fill="#000" stroke="#000" stroke-width="0.18">XX07</text>
<text x="924.40" y="1163.60" font-size="4.9" textLength="14.40" lengthAdjust="spacingAndGlyphs" fill="#000" stroke="#000" stroke-width="0.18">XX08</text>
<text x="924.40" y="1191.35" font-size="4.9" textLength="14.40" lengthAdjust="spacingAndGlyphs" fill="#000" stroke="#000" stroke-width="0.18">XX09</text>
<text x="924.40" y="1228.36" font-size="4.9" textLength="14.40" lengthAdjust="spacingAndGlyphs" fill="#000" stroke="#000" stroke-width="0.18">XX10</text>
<text x="830.40" y="1228.95" font-size="4.9" textLength="14.40" lengthAdjust="spacingAndGlyphs" fill="#000" stroke="#000" stroke-width="0.18">XX14</text>
<text x="863.30" y="1228.95" font-size="4.9" textLength="14.40" lengthAdjust="spacingAndGlyphs" fill="#000" stroke="#000" stroke-width="0.18">XX15</text>
<text x="828.20" y="1260.99" font-size="4.9" textLength="14.40" lengthAdjust="spacingAndGlyphs" fill="#000" stroke="#000" stroke-width="0.18">XX13</text>
<text x="876.30" y="1260.99" font-size="4.9" textLength="14.40" lengthAdjust="spacingAndGlyphs" fill="#000" stroke="#000" stroke-width="0.18">XX12</text>
<text x="913.50" y="1260.99" font-size="4.9" textLength="14.40" lengthAdjust="spacingAndGlyphs" fill="#000" stroke="#000" stroke-width="0.18">XX11</text>
<rect x="0" y="1413.2" width="1240" height="336.8" fill="#e2f4fc"/>
<path d="M79.6 1509.6C86.6 1494.6 101 1485 118 1485C139 1485 155.4 1500.6 155.4 1521.6C155.4 1537.6 147.6 1548.6 135 1559.8L77.6 1609.2H158.4" fill="none" stroke="#231f20" stroke-width="3.9" stroke-linejoin="miter"/>
<text x="68.50" y="1639.80" font-size="14.6" textLength="85.50" lengthAdjust="spacingAndGlyphs" fill="#231f20">BEDROOM</text>
<text x="68.50" y="1658.70" font-size="14.6" textLength="105.60" lengthAdjust="spacingAndGlyphs" fill="#231f20">APARTMENT</text>
<path d="M212.6 1474.5V1659.2" stroke="#231f20" stroke-width="1"/>
<text x="243.30" y="1504.00" font-size="36" textLength="150.00" lengthAdjust="spacingAndGlyphs" fill="#231f20" stroke="#e2f4fc" stroke-width="0.6">TYPE G</text>
<text x="244.00" y="1528.50" font-size="13.4" textLength="92.00" lengthAdjust="spacingAndGlyphs" fill="#333">(with balcony)</text>
<text x="244.50" y="1608.80" font-size="10.9" textLength="153.20" lengthAdjust="spacingAndGlyphs" font-weight="bold" fill="#231f20">TOTAL SALEABLE AREA</text>
<text x="244.50" y="1627.00" font-size="11.9" textLength="239.50" lengthAdjust="spacingAndGlyphs" fill="#2a2a2a">SUITE RANGE = 867.57 - 868.32 SQ.FT.</text>
<text x="244.50" y="1643.20" font-size="11.9" textLength="157.80" lengthAdjust="spacingAndGlyphs" fill="#2a2a2a">BALCONY = 104.52 SQ.FT.</text>
<text x="244.50" y="1658.90" font-size="11.9" textLength="242.50" lengthAdjust="spacingAndGlyphs" fill="#2a2a2a">TOTAL RANGE = 972.09 - 972.84 SQ.FT.</text>
<text x="545.70" y="1486.60" font-size="11.2" textLength="208.80" lengthAdjust="spacingAndGlyphs" font-style="italic" fill="#2a2a2a">List of unit numbers with this unit plan:</text>
<text x="546.00" y="1514.90" font-size="14" textLength="54.60" lengthAdjust="spacingAndGlyphs" font-weight="bold" fill="#231f20">VIEWS</text>
<text x="546.00" y="1541.00" font-size="10.6" textLength="123.60" lengthAdjust="spacingAndGlyphs" fill="#3a3a3a">Green, Park, Water View</text>
<text x="546.00" y="1556.80" font-size="10.6" textLength="266.60" lengthAdjust="spacingAndGlyphs" fill="#1d1d1d">D-210, D-311, D-411, D-511, D-611, D-711, D-811, D-909</text>
<text x="54.00" y="1711.50" font-size="7.3" textLength="1132.80" lengthAdjust="spacingAndGlyphs" fill="#9fb3c0">Disclaimer: 1. All dimensions are in metric, measured to wall finishes. 2. All materials, dimensions &amp; drawings are approximate. 3. Information is subject to change without notice, at developer's absolute discretion. 4. Actual area may vary from the stated area. 5. Drawing are</text>
<text x="54.00" y="1722.40" font-size="7.3" textLength="1130.50" lengthAdjust="spacingAndGlyphs" fill="#9fb3c0">not to scale. 6. All images used are for illustrative purpose only and do not represent the actual size, features, specifications, fittings and furnishings. 7. The developer reserves the right to make revisions/ alterations, at its absolute discretion, without any liability whatsoever.</text>
</svg>
</body></html>
